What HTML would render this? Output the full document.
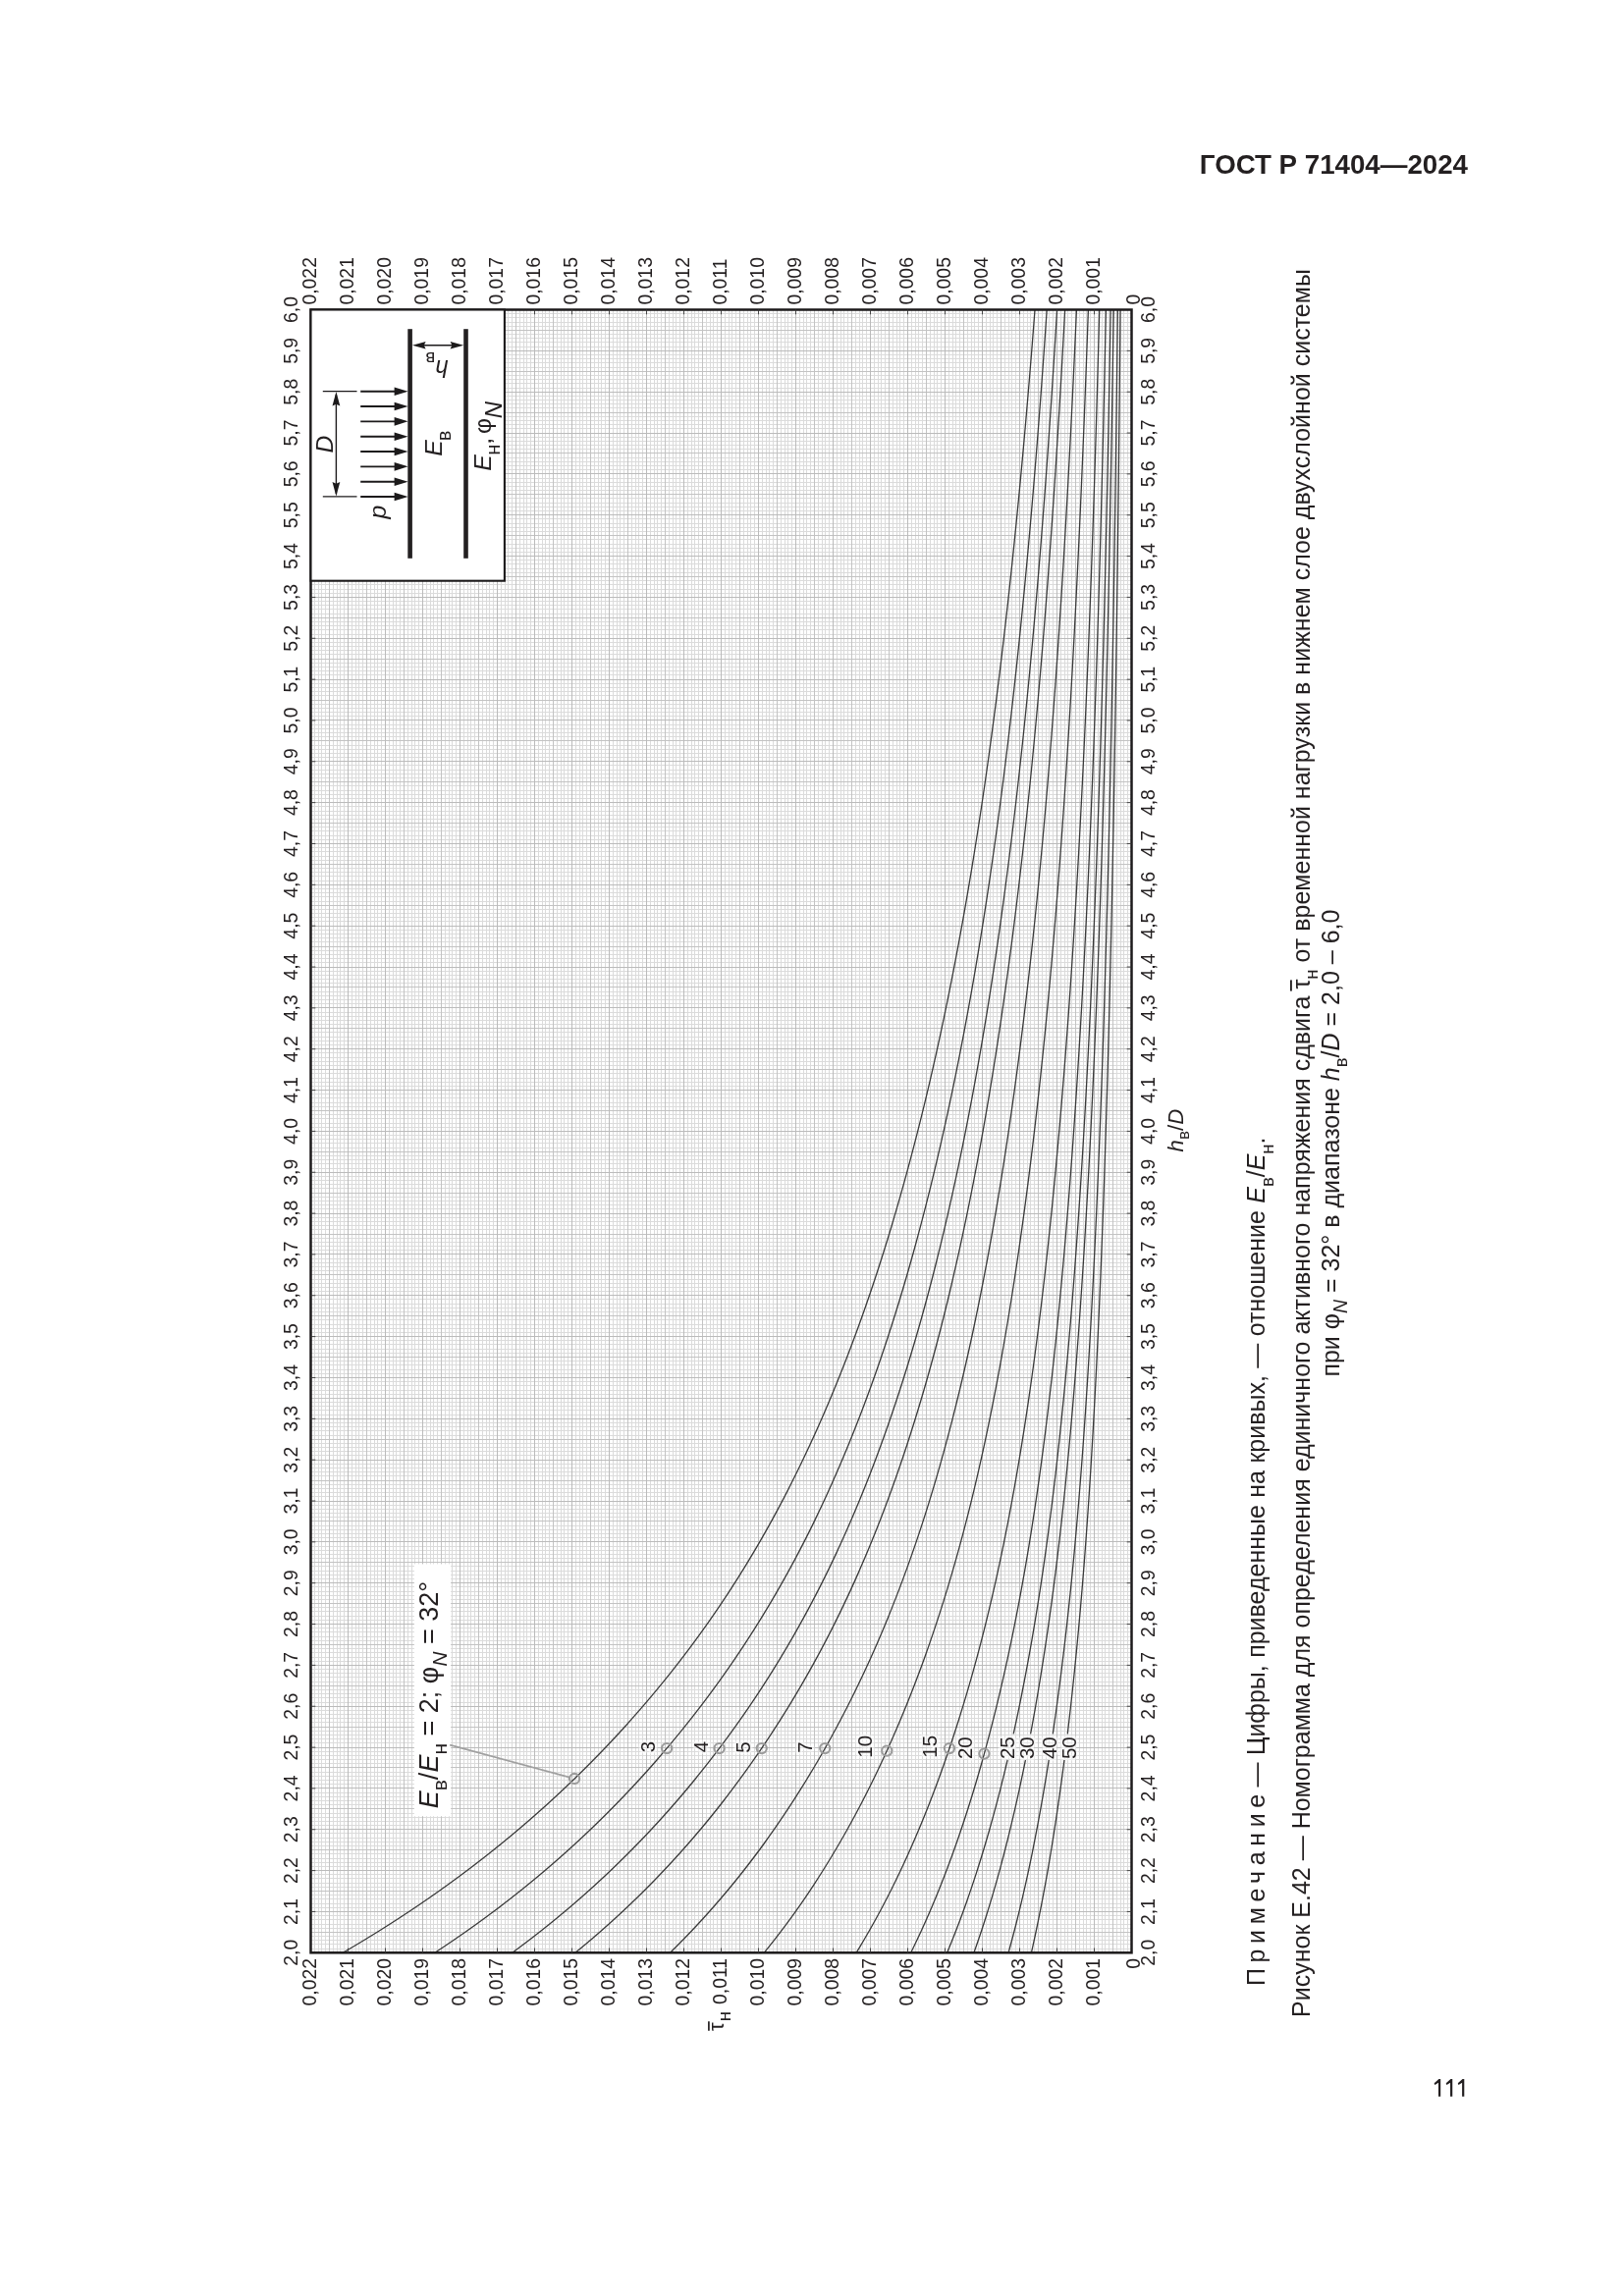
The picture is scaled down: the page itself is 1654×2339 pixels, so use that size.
<!DOCTYPE html><html><head><meta charset="utf-8"><title>p111</title><style>html,body{margin:0;padding:0;background:#fff}body{width:1654px;height:2339px;overflow:hidden}svg{display:block;will-change:transform}text{font-family:"Liberation Sans",sans-serif;fill:#231f20}.i{font-style:italic}</style></head><body>
<svg width="1654" height="2339" viewBox="0 0 1654 2339">
<rect width="1654" height="2339" fill="#fff"/>
<g fill="none">
<path d="M320.5 315.5V1989.3M324.5 315.5V1989.3M327.5 315.5V1989.3M331.5 315.5V1989.3M339.5 315.5V1989.3M343.5 315.5V1989.3M346.5 315.5V1989.3M350.5 315.5V1989.3M358.5 315.5V1989.3M362.5 315.5V1989.3M365.5 315.5V1989.3M369.5 315.5V1989.3M377.5 315.5V1989.3M381.5 315.5V1989.3M384.5 315.5V1989.3M388.5 315.5V1989.3M396.5 315.5V1989.3M400.5 315.5V1989.3M403.5 315.5V1989.3M407.5 315.5V1989.3M415.5 315.5V1989.3M419.5 315.5V1989.3M422.5 315.5V1989.3M426.5 315.5V1989.3M434.5 315.5V1989.3M438.5 315.5V1989.3M441.5 315.5V1989.3M445.5 315.5V1989.3M453.5 315.5V1989.3M457.5 315.5V1989.3M460.5 315.5V1989.3M464.5 315.5V1989.3M472.5 315.5V1989.3M476.5 315.5V1989.3M479.5 315.5V1989.3M483.5 315.5V1989.3M491.5 315.5V1989.3M495.5 315.5V1989.3M498.5 315.5V1989.3M502.5 315.5V1989.3M510.5 315.5V1989.3M514.5 315.5V1989.3M517.5 315.5V1989.3M521.5 315.5V1989.3M529.5 315.5V1989.3M533.5 315.5V1989.3M536.5 315.5V1989.3M540.5 315.5V1989.3M548.5 315.5V1989.3M552.5 315.5V1989.3M555.5 315.5V1989.3M559.5 315.5V1989.3M567.5 315.5V1989.3M571.5 315.5V1989.3M574.5 315.5V1989.3M578.5 315.5V1989.3M586.5 315.5V1989.3M590.5 315.5V1989.3M593.5 315.5V1989.3M597.5 315.5V1989.3M605.5 315.5V1989.3M609.5 315.5V1989.3M612.5 315.5V1989.3M616.5 315.5V1989.3M624.5 315.5V1989.3M628.5 315.5V1989.3M631.5 315.5V1989.3M635.5 315.5V1989.3M643.5 315.5V1989.3M647.5 315.5V1989.3M650.5 315.5V1989.3M654.5 315.5V1989.3M662.5 315.5V1989.3M666.5 315.5V1989.3M669.5 315.5V1989.3M673.5 315.5V1989.3M681.5 315.5V1989.3M685.5 315.5V1989.3M688.5 315.5V1989.3M692.5 315.5V1989.3M700.5 315.5V1989.3M704.5 315.5V1989.3M707.5 315.5V1989.3M711.5 315.5V1989.3M719.5 315.5V1989.3M723.5 315.5V1989.3M726.5 315.5V1989.3M730.5 315.5V1989.3M738.5 315.5V1989.3M742.5 315.5V1989.3M745.5 315.5V1989.3M749.5 315.5V1989.3M757.5 315.5V1989.3M761.5 315.5V1989.3M764.5 315.5V1989.3M768.5 315.5V1989.3M776.5 315.5V1989.3M780.5 315.5V1989.3M783.5 315.5V1989.3M787.5 315.5V1989.3M795.5 315.5V1989.3M799.5 315.5V1989.3M802.5 315.5V1989.3M806.5 315.5V1989.3M814.5 315.5V1989.3M818.5 315.5V1989.3M821.5 315.5V1989.3M825.5 315.5V1989.3M833.5 315.5V1989.3M837.5 315.5V1989.3M840.5 315.5V1989.3M844.5 315.5V1989.3M852.5 315.5V1989.3M856.5 315.5V1989.3M859.5 315.5V1989.3M863.5 315.5V1989.3M871.5 315.5V1989.3M875.5 315.5V1989.3M878.5 315.5V1989.3M882.5 315.5V1989.3M890.5 315.5V1989.3M894.5 315.5V1989.3M897.5 315.5V1989.3M901.5 315.5V1989.3M909.5 315.5V1989.3M913.5 315.5V1989.3M916.5 315.5V1989.3M920.5 315.5V1989.3M928.5 315.5V1989.3M932.5 315.5V1989.3M935.5 315.5V1989.3M939.5 315.5V1989.3M947.5 315.5V1989.3M951.5 315.5V1989.3M954.5 315.5V1989.3M958.5 315.5V1989.3M966.5 315.5V1989.3M970.5 315.5V1989.3M973.5 315.5V1989.3M977.5 315.5V1989.3M985.5 315.5V1989.3M989.5 315.5V1989.3M992.5 315.5V1989.3M996.5 315.5V1989.3M1004.5 315.5V1989.3M1008.5 315.5V1989.3M1011.5 315.5V1989.3M1015.5 315.5V1989.3M1023.5 315.5V1989.3M1027.5 315.5V1989.3M1030.5 315.5V1989.3M1034.5 315.5V1989.3M1042.5 315.5V1989.3M1046.5 315.5V1989.3M1049.5 315.5V1989.3M1053.5 315.5V1989.3M1061.5 315.5V1989.3M1065.5 315.5V1989.3M1068.5 315.5V1989.3M1072.5 315.5V1989.3M1080.5 315.5V1989.3M1084.5 315.5V1989.3M1087.5 315.5V1989.3M1091.5 315.5V1989.3M1099.5 315.5V1989.3M1103.5 315.5V1989.3M1106.5 315.5V1989.3M1110.5 315.5V1989.3M1118.5 315.5V1989.3M1122.5 315.5V1989.3M1125.5 315.5V1989.3M1129.5 315.5V1989.3M1137.5 315.5V1989.3M1141.5 315.5V1989.3M1144.5 315.5V1989.3M1148.5 315.5V1989.3M316.5 319.5H1152.5M316.5 323.5H1152.5M316.5 328.5H1152.5M316.5 332.5H1152.5M316.5 340.5H1152.5M316.5 344.5H1152.5M316.5 348.5H1152.5M316.5 353.5H1152.5M316.5 361.5H1152.5M316.5 365.5H1152.5M316.5 369.5H1152.5M316.5 374.5H1152.5M316.5 382.5H1152.5M316.5 386.5H1152.5M316.5 390.5H1152.5M316.5 395.5H1152.5M316.5 403.5H1152.5M316.5 407.5H1152.5M316.5 411.5H1152.5M316.5 415.5H1152.5M316.5 424.5H1152.5M316.5 428.5H1152.5M316.5 432.5H1152.5M316.5 436.5H1152.5M316.5 445.5H1152.5M316.5 449.5H1152.5M316.5 453.5H1152.5M316.5 457.5H1152.5M316.5 466.5H1152.5M316.5 470.5H1152.5M316.5 474.5H1152.5M316.5 478.5H1152.5M316.5 487.5H1152.5M316.5 491.5H1152.5M316.5 495.5H1152.5M316.5 499.5H1152.5M316.5 507.5H1152.5M316.5 512.5H1152.5M316.5 516.5H1152.5M316.5 520.5H1152.5M316.5 528.5H1152.5M316.5 533.5H1152.5M316.5 537.5H1152.5M316.5 541.5H1152.5M316.5 549.5H1152.5M316.5 554.5H1152.5M316.5 558.5H1152.5M316.5 562.5H1152.5M316.5 570.5H1152.5M316.5 574.5H1152.5M316.5 579.5H1152.5M316.5 583.5H1152.5M316.5 591.5H1152.5M316.5 595.5H1152.5M316.5 600.5H1152.5M316.5 604.5H1152.5M316.5 612.5H1152.5M316.5 616.5H1152.5M316.5 620.5H1152.5M316.5 625.5H1152.5M316.5 633.5H1152.5M316.5 637.5H1152.5M316.5 641.5H1152.5M316.5 646.5H1152.5M316.5 654.5H1152.5M316.5 658.5H1152.5M316.5 662.5H1152.5M316.5 666.5H1152.5M316.5 675.5H1152.5M316.5 679.5H1152.5M316.5 683.5H1152.5M316.5 687.5H1152.5M316.5 696.5H1152.5M316.5 700.5H1152.5M316.5 704.5H1152.5M316.5 708.5H1152.5M316.5 717.5H1152.5M316.5 721.5H1152.5M316.5 725.5H1152.5M316.5 729.5H1152.5M316.5 738.5H1152.5M316.5 742.5H1152.5M316.5 746.5H1152.5M316.5 750.5H1152.5M316.5 759.5H1152.5M316.5 763.5H1152.5M316.5 767.5H1152.5M316.5 771.5H1152.5M316.5 779.5H1152.5M316.5 784.5H1152.5M316.5 788.5H1152.5M316.5 792.5H1152.5M316.5 800.5H1152.5M316.5 805.5H1152.5M316.5 809.5H1152.5M316.5 813.5H1152.5M316.5 821.5H1152.5M316.5 826.5H1152.5M316.5 830.5H1152.5M316.5 834.5H1152.5M316.5 842.5H1152.5M316.5 846.5H1152.5M316.5 851.5H1152.5M316.5 855.5H1152.5M316.5 863.5H1152.5M316.5 867.5H1152.5M316.5 872.5H1152.5M316.5 876.5H1152.5M316.5 884.5H1152.5M316.5 888.5H1152.5M316.5 892.5H1152.5M316.5 897.5H1152.5M316.5 905.5H1152.5M316.5 909.5H1152.5M316.5 913.5H1152.5M316.5 918.5H1152.5M316.5 926.5H1152.5M316.5 930.5H1152.5M316.5 934.5H1152.5M316.5 938.5H1152.5M316.5 947.5H1152.5M316.5 951.5H1152.5M316.5 955.5H1152.5M316.5 959.5H1152.5M316.5 968.5H1152.5M316.5 972.5H1152.5M316.5 976.5H1152.5M316.5 980.5H1152.5M316.5 989.5H1152.5M316.5 993.5H1152.5M316.5 997.5H1152.5M316.5 1001.5H1152.5M316.5 1010.5H1152.5M316.5 1014.5H1152.5M316.5 1018.5H1152.5M316.5 1022.5H1152.5M316.5 1031.5H1152.5M316.5 1035.5H1152.5M316.5 1039.5H1152.5M316.5 1043.5H1152.5M316.5 1051.5H1152.5M316.5 1056.5H1152.5M316.5 1060.5H1152.5M316.5 1064.5H1152.5M316.5 1072.5H1152.5M316.5 1077.5H1152.5M316.5 1081.5H1152.5M316.5 1085.5H1152.5M316.5 1093.5H1152.5M316.5 1098.5H1152.5M316.5 1102.5H1152.5M316.5 1106.5H1152.5M316.5 1114.5H1152.5M316.5 1118.5H1152.5M316.5 1123.5H1152.5M316.5 1127.5H1152.5M316.5 1135.5H1152.5M316.5 1139.5H1152.5M316.5 1144.5H1152.5M316.5 1148.5H1152.5M316.5 1156.5H1152.5M316.5 1160.5H1152.5M316.5 1164.5H1152.5M316.5 1169.5H1152.5M316.5 1177.5H1152.5M316.5 1181.5H1152.5M316.5 1185.5H1152.5M316.5 1190.5H1152.5M316.5 1198.5H1152.5M316.5 1202.5H1152.5M316.5 1206.5H1152.5M316.5 1210.5H1152.5M316.5 1219.5H1152.5M316.5 1223.5H1152.5M316.5 1227.5H1152.5M316.5 1231.5H1152.5M316.5 1240.5H1152.5M316.5 1244.5H1152.5M316.5 1248.5H1152.5M316.5 1252.5H1152.5M316.5 1261.5H1152.5M316.5 1265.5H1152.5M316.5 1269.5H1152.5M316.5 1273.5H1152.5M316.5 1282.5H1152.5M316.5 1286.5H1152.5M316.5 1290.5H1152.5M316.5 1294.5H1152.5M316.5 1303.5H1152.5M316.5 1307.5H1152.5M316.5 1311.5H1152.5M316.5 1315.5H1152.5M316.5 1323.5H1152.5M316.5 1328.5H1152.5M316.5 1332.5H1152.5M316.5 1336.5H1152.5M316.5 1344.5H1152.5M316.5 1349.5H1152.5M316.5 1353.5H1152.5M316.5 1357.5H1152.5M316.5 1365.5H1152.5M316.5 1369.5H1152.5M316.5 1374.5H1152.5M316.5 1378.5H1152.5M316.5 1386.5H1152.5M316.5 1390.5H1152.5M316.5 1395.5H1152.5M316.5 1399.5H1152.5M316.5 1407.5H1152.5M316.5 1411.5H1152.5M316.5 1416.5H1152.5M316.5 1420.5H1152.5M316.5 1428.5H1152.5M316.5 1432.5H1152.5M316.5 1436.5H1152.5M316.5 1441.5H1152.5M316.5 1449.5H1152.5M316.5 1453.5H1152.5M316.5 1457.5H1152.5M316.5 1462.5H1152.5M316.5 1470.5H1152.5M316.5 1474.5H1152.5M316.5 1478.5H1152.5M316.5 1482.5H1152.5M316.5 1491.5H1152.5M316.5 1495.5H1152.5M316.5 1499.5H1152.5M316.5 1503.5H1152.5M316.5 1512.5H1152.5M316.5 1516.5H1152.5M316.5 1520.5H1152.5M316.5 1524.5H1152.5M316.5 1533.5H1152.5M316.5 1537.5H1152.5M316.5 1541.5H1152.5M316.5 1545.5H1152.5M316.5 1554.5H1152.5M316.5 1558.5H1152.5M316.5 1562.5H1152.5M316.5 1566.5H1152.5M316.5 1575.5H1152.5M316.5 1579.5H1152.5M316.5 1583.5H1152.5M316.5 1587.5H1152.5M316.5 1595.5H1152.5M316.5 1600.5H1152.5M316.5 1604.5H1152.5M316.5 1608.5H1152.5M316.5 1616.5H1152.5M316.5 1621.5H1152.5M316.5 1625.5H1152.5M316.5 1629.5H1152.5M316.5 1637.5H1152.5M316.5 1641.5H1152.5M316.5 1646.5H1152.5M316.5 1650.5H1152.5M316.5 1658.5H1152.5M316.5 1662.5H1152.5M316.5 1667.5H1152.5M316.5 1671.5H1152.5M316.5 1679.5H1152.5M316.5 1683.5H1152.5M316.5 1688.5H1152.5M316.5 1692.5H1152.5M316.5 1700.5H1152.5M316.5 1704.5H1152.5M316.5 1708.5H1152.5M316.5 1713.5H1152.5M316.5 1721.5H1152.5M316.5 1725.5H1152.5M316.5 1729.5H1152.5M316.5 1734.5H1152.5M316.5 1742.5H1152.5M316.5 1746.5H1152.5M316.5 1750.5H1152.5M316.5 1754.5H1152.5M316.5 1763.5H1152.5M316.5 1767.5H1152.5M316.5 1771.5H1152.5M316.5 1775.5H1152.5M316.5 1784.5H1152.5M316.5 1788.5H1152.5M316.5 1792.5H1152.5M316.5 1796.5H1152.5M316.5 1805.5H1152.5M316.5 1809.5H1152.5M316.5 1813.5H1152.5M316.5 1817.5H1152.5M316.5 1826.5H1152.5M316.5 1830.5H1152.5M316.5 1834.5H1152.5M316.5 1838.5H1152.5M316.5 1847.5H1152.5M316.5 1851.5H1152.5M316.5 1855.5H1152.5M316.5 1859.5H1152.5M316.5 1867.5H1152.5M316.5 1872.5H1152.5M316.5 1876.5H1152.5M316.5 1880.5H1152.5M316.5 1888.5H1152.5M316.5 1893.5H1152.5M316.5 1897.5H1152.5M316.5 1901.5H1152.5M316.5 1909.5H1152.5M316.5 1913.5H1152.5M316.5 1918.5H1152.5M316.5 1922.5H1152.5M316.5 1930.5H1152.5M316.5 1934.5H1152.5M316.5 1939.5H1152.5M316.5 1943.5H1152.5M316.5 1951.5H1152.5M316.5 1955.5H1152.5M316.5 1960.5H1152.5M316.5 1964.5H1152.5M316.5 1972.5H1152.5M316.5 1976.5H1152.5M316.5 1980.5H1152.5M316.5 1985.5H1152.5" stroke="#dbdbdb" stroke-width="1"/>
<path d="M335.5 315.5V1989.3M373.5 315.5V1989.3M411.5 315.5V1989.3M449.5 315.5V1989.3M487.5 315.5V1989.3M525.5 315.5V1989.3M563.5 315.5V1989.3M601.5 315.5V1989.3M639.5 315.5V1989.3M677.5 315.5V1989.3M715.5 315.5V1989.3M753.5 315.5V1989.3M791.5 315.5V1989.3M829.5 315.5V1989.3M867.5 315.5V1989.3M905.5 315.5V1989.3M943.5 315.5V1989.3M981.5 315.5V1989.3M1019.5 315.5V1989.3M1057.5 315.5V1989.3M1095.5 315.5V1989.3M1133.5 315.5V1989.3M316.5 336.5H1152.5M316.5 378.5H1152.5M316.5 420.5H1152.5M316.5 461.5H1152.5M316.5 503.5H1152.5M316.5 545.5H1152.5M316.5 587.5H1152.5M316.5 629.5H1152.5M316.5 671.5H1152.5M316.5 713.5H1152.5M316.5 754.5H1152.5M316.5 796.5H1152.5M316.5 838.5H1152.5M316.5 880.5H1152.5M316.5 922.5H1152.5M316.5 964.5H1152.5M316.5 1005.5H1152.5M316.5 1047.5H1152.5M316.5 1089.5H1152.5M316.5 1131.5H1152.5M316.5 1173.5H1152.5M316.5 1215.5H1152.5M316.5 1257.5H1152.5M316.5 1298.5H1152.5M316.5 1340.5H1152.5M316.5 1382.5H1152.5M316.5 1424.5H1152.5M316.5 1466.5H1152.5M316.5 1508.5H1152.5M316.5 1549.5H1152.5M316.5 1591.5H1152.5M316.5 1633.5H1152.5M316.5 1675.5H1152.5M316.5 1717.5H1152.5M316.5 1759.5H1152.5M316.5 1800.5H1152.5M316.5 1842.5H1152.5M316.5 1884.5H1152.5M316.5 1926.5H1152.5M316.5 1968.5H1152.5" stroke="#c3c3c3" stroke-width="1"/>
<path d="M316.5 315.5V1989.3M354.5 315.5V1989.3M392.5 315.5V1989.3M430.5 315.5V1989.3M468.5 315.5V1989.3M506.5 315.5V1989.3M544.5 315.5V1989.3M582.5 315.5V1989.3M620.5 315.5V1989.3M658.5 315.5V1989.3M696.5 315.5V1989.3M734.5 315.5V1989.3M772.5 315.5V1989.3M810.5 315.5V1989.3M848.5 315.5V1989.3M886.5 315.5V1989.3M924.5 315.5V1989.3M962.5 315.5V1989.3M1000.5 315.5V1989.3M1038.5 315.5V1989.3M1076.5 315.5V1989.3M1114.5 315.5V1989.3M1152.5 315.5V1989.3M316.5 315.5H1152.5M316.5 357.5H1152.5M316.5 399.5H1152.5M316.5 441.5H1152.5M316.5 482.5H1152.5M316.5 524.5H1152.5M316.5 566.5H1152.5M316.5 608.5H1152.5M316.5 650.5H1152.5M316.5 692.5H1152.5M316.5 733.5H1152.5M316.5 775.5H1152.5M316.5 817.5H1152.5M316.5 859.5H1152.5M316.5 901.5H1152.5M316.5 943.5H1152.5M316.5 985.5H1152.5M316.5 1026.5H1152.5M316.5 1068.5H1152.5M316.5 1110.5H1152.5M316.5 1152.5H1152.5M316.5 1194.5H1152.5M316.5 1236.5H1152.5M316.5 1277.5H1152.5M316.5 1319.5H1152.5M316.5 1361.5H1152.5M316.5 1403.5H1152.5M316.5 1445.5H1152.5M316.5 1487.5H1152.5M316.5 1529.5H1152.5M316.5 1570.5H1152.5M316.5 1612.5H1152.5M316.5 1654.5H1152.5M316.5 1696.5H1152.5M316.5 1738.5H1152.5M316.5 1780.5H1152.5M316.5 1821.5H1152.5M316.5 1863.5H1152.5M316.5 1905.5H1152.5M316.5 1947.5H1152.5M316.5 1989.5H1152.5" stroke="#bbbbbb" stroke-width="1"/>
</g>
<g fill="none" stroke="#3a3a3a" stroke-width="1.3">
<path d="M349.33 1989.30L361.23 1982.30L372.86 1975.29L384.22 1968.29L395.33 1961.29L406.20 1954.28L416.84 1947.28L427.24 1940.28L437.43 1933.27L447.40 1926.27L457.17 1919.27L466.73 1912.26L476.11 1905.26L485.29 1898.26L494.30 1891.25L503.13 1884.25L511.79 1877.25L520.28 1870.24L528.62 1863.24L536.79 1856.24L544.82 1849.23L552.70 1842.23L560.44 1835.23L568.03 1828.22L575.50 1821.22L582.83 1814.22L590.03 1807.21L597.11 1800.21L604.07 1793.21L610.91 1786.20L617.63 1779.20L624.24 1772.20L630.75 1765.19L637.14 1758.19L643.42 1751.19L649.61 1744.18L655.68 1737.18L661.66 1730.18L667.54 1723.17L673.31 1716.17L678.99 1709.17L684.58 1702.16L690.07 1695.16L695.47 1688.16L700.78 1681.15L706.01 1674.15L711.14 1667.15L716.19 1660.14L721.16 1653.14L726.04 1646.14L730.84 1639.13L735.56 1632.13L740.21 1625.13L744.77 1618.12L749.26 1611.12L753.68 1604.12L758.03 1597.11L762.30 1590.11L766.50 1583.11L770.64 1576.10L774.70 1569.10L778.70 1562.10L782.64 1555.09L786.51 1548.09L790.32 1541.09L794.07 1534.08L797.76 1527.08L801.39 1520.08L804.97 1513.07L808.49 1506.07L811.96 1499.07L815.37 1492.06L818.73 1485.06L822.04 1478.06L825.31 1471.05L828.52 1464.05L831.69 1457.05L834.80 1450.04L837.88 1443.04L840.91 1436.04L843.89 1429.03L846.84 1422.03L849.74 1415.03L852.60 1408.02L855.41 1401.02L858.19 1394.02L860.94 1387.01L863.64 1380.01L866.30 1373.01L868.93 1366.00L871.53 1359.00L874.09 1352.00L876.61 1344.99L879.10 1337.99L881.56 1330.99L883.98 1323.98L886.37 1316.98L888.74 1309.98L891.07 1302.97L893.37 1295.97L895.64 1288.97L897.88 1281.96L900.09 1274.96L902.28 1267.96L904.44 1260.95L906.57 1253.95L908.67 1246.95L910.75 1239.94L912.80 1232.94L914.83 1225.94L916.83 1218.93L918.81 1211.93L920.76 1204.93L922.69 1197.92L924.60 1190.92L926.48 1183.92L928.34 1176.91L930.18 1169.91L932.00 1162.91L933.80 1155.90L935.57 1148.90L937.33 1141.89L939.06 1134.89L940.78 1127.89L942.47 1120.88L944.15 1113.88L945.80 1106.88L947.44 1099.87L949.06 1092.87L950.66 1085.87L952.24 1078.86L953.80 1071.86L955.35 1064.86L956.88 1057.85L958.39 1050.85L959.88 1043.85L961.36 1036.84L962.82 1029.84L964.26 1022.84L965.69 1015.83L967.10 1008.83L968.50 1001.83L969.88 994.82L971.25 987.82L972.60 980.82L973.93 973.81L975.25 966.81L976.56 959.81L977.85 952.80L979.13 945.80L980.39 938.80L981.64 931.79L982.88 924.79L984.10 917.79L985.31 910.78L986.51 903.78L987.69 896.78L988.87 889.77L990.02 882.77L991.17 875.77L992.31 868.76L993.43 861.76L994.54 854.76L995.64 847.75L996.72 840.75L997.80 833.75L998.86 826.74L999.92 819.74L1000.96 812.74L1001.99 805.73L1003.01 798.73L1004.02 791.73L1005.02 784.72L1006.01 777.72L1006.99 770.72L1007.96 763.71L1008.91 756.71L1009.86 749.71L1010.80 742.70L1011.73 735.70L1012.65 728.70L1013.56 721.69L1014.47 714.69L1015.36 707.69L1016.24 700.68L1017.12 693.68L1017.98 686.68L1018.84 679.67L1019.69 672.67L1020.53 665.67L1021.36 658.66L1022.19 651.66L1023.00 644.66L1023.81 637.65L1024.61 630.65L1025.41 623.65L1026.19 616.64L1026.97 609.64L1027.74 602.64L1028.50 595.63L1029.26 588.63L1030.01 581.63L1030.75 574.62L1031.49 567.62L1032.22 560.62L1032.94 553.61L1033.65 546.61L1034.36 539.61L1035.06 532.60L1035.76 525.60L1036.45 518.60L1037.13 511.59L1037.81 504.59L1038.48 497.59L1039.14 490.58L1039.80 483.58L1040.46 476.58L1041.10 469.57L1041.75 462.57L1042.38 455.57L1043.01 448.56L1043.64 441.56L1044.26 434.56L1044.87 427.55L1045.48 420.55L1046.08 413.55L1046.68 406.54L1047.27 399.54L1047.86 392.54L1048.45 385.53L1049.02 378.53L1049.60 371.53L1050.17 364.52L1050.73 357.52L1051.29 350.52L1051.84 343.51L1052.39 336.51L1052.94 329.51L1053.48 322.50L1054.02 315.50"/>
<path d="M442.92 1989.30L453.47 1982.30L463.79 1975.29L473.87 1968.29L483.72 1961.29L493.36 1954.28L502.80 1947.28L512.02 1940.28L521.06 1933.27L529.90 1926.27L538.56 1919.27L547.04 1912.26L555.35 1905.26L563.49 1898.26L571.48 1891.25L579.30 1884.25L586.98 1877.25L594.51 1870.24L601.89 1863.24L609.14 1856.24L616.25 1849.23L623.23 1842.23L630.09 1835.23L636.82 1828.22L643.43 1821.22L649.92 1814.22L656.30 1807.21L662.58 1800.21L668.74 1793.21L674.79 1786.20L680.75 1779.20L686.61 1772.20L692.36 1765.19L698.02 1758.19L703.59 1751.19L709.06 1744.18L714.44 1737.18L719.73 1730.18L724.93 1723.17L730.05 1716.17L735.08 1709.17L740.02 1702.16L744.88 1695.16L749.66 1688.16L754.36 1681.15L758.98 1674.15L763.52 1667.15L767.99 1660.14L772.38 1653.14L776.70 1646.14L780.95 1639.13L785.13 1632.13L789.24 1625.13L793.27 1618.12L797.25 1611.12L801.15 1604.12L805.00 1597.11L808.78 1590.11L812.49 1583.11L816.15 1576.10L819.74 1569.10L823.28 1562.10L826.76 1555.09L830.18 1548.09L833.55 1541.09L836.87 1534.08L840.13 1527.08L843.34 1520.08L846.50 1513.07L849.61 1506.07L852.68 1499.07L855.70 1492.06L858.67 1485.06L861.59 1478.06L864.48 1471.05L867.32 1464.05L870.11 1457.05L872.87 1450.04L875.59 1443.04L878.26 1436.04L880.90 1429.03L883.50 1422.03L886.06 1415.03L888.59 1408.02L891.08 1401.02L893.54 1394.02L895.96 1387.01L898.35 1380.01L900.70 1373.01L903.02 1366.00L905.31 1359.00L907.57 1352.00L909.80 1344.99L912.00 1337.99L914.17 1330.99L916.31 1323.98L918.43 1316.98L920.51 1309.98L922.57 1302.97L924.60 1295.97L926.60 1288.97L928.58 1281.96L930.54 1274.96L932.47 1267.96L934.37 1260.95L936.25 1253.95L938.11 1246.95L939.94 1239.94L941.75 1232.94L943.54 1225.94L945.31 1218.93L947.05 1211.93L948.78 1204.93L950.48 1197.92L952.16 1190.92L953.83 1183.92L955.47 1176.91L957.09 1169.91L958.70 1162.91L960.28 1155.90L961.85 1148.90L963.40 1141.89L964.93 1134.89L966.44 1127.89L967.94 1120.88L969.41 1113.88L970.87 1106.88L972.32 1099.87L973.75 1092.87L975.16 1085.87L976.55 1078.86L977.93 1071.86L979.29 1064.86L980.64 1057.85L981.97 1050.85L983.29 1043.85L984.59 1036.84L985.88 1029.84L987.15 1022.84L988.41 1015.83L989.66 1008.83L990.89 1001.83L992.11 994.82L993.31 987.82L994.50 980.82L995.68 973.81L996.84 966.81L998.00 959.81L999.13 952.80L1000.26 945.80L1001.38 938.80L1002.48 931.79L1003.57 924.79L1004.65 917.79L1005.71 910.78L1006.77 903.78L1007.81 896.78L1008.84 889.77L1009.86 882.77L1010.87 875.77L1011.87 868.76L1012.86 861.76L1013.84 854.76L1014.81 847.75L1015.77 840.75L1016.71 833.75L1017.65 826.74L1018.58 819.74L1019.50 812.74L1020.41 805.73L1021.31 798.73L1022.20 791.73L1023.08 784.72L1023.95 777.72L1024.81 770.72L1025.66 763.71L1026.51 756.71L1027.34 749.71L1028.17 742.70L1028.99 735.70L1029.80 728.70L1030.60 721.69L1031.40 714.69L1032.18 707.69L1032.96 700.68L1033.73 693.68L1034.49 686.68L1035.25 679.67L1036.00 672.67L1036.74 665.67L1037.47 658.66L1038.20 651.66L1038.92 644.66L1039.63 637.65L1040.33 630.65L1041.03 623.65L1041.72 616.64L1042.41 609.64L1043.09 602.64L1043.76 595.63L1044.42 588.63L1045.08 581.63L1045.74 574.62L1046.38 567.62L1047.03 560.62L1047.66 553.61L1048.29 546.61L1048.91 539.61L1049.53 532.60L1050.14 525.60L1050.75 518.60L1051.35 511.59L1051.95 504.59L1052.54 497.59L1053.12 490.58L1053.70 483.58L1054.28 476.58L1054.85 469.57L1055.41 462.57L1055.97 455.57L1056.53 448.56L1057.08 441.56L1057.62 434.56L1058.16 427.55L1058.70 420.55L1059.23 413.55L1059.76 406.54L1060.28 399.54L1060.80 392.54L1061.31 385.53L1061.82 378.53L1062.32 371.53L1062.82 364.52L1063.32 357.52L1063.81 350.52L1064.30 343.51L1064.78 336.51L1065.26 329.51L1065.74 322.50L1066.21 315.50"/>
<path d="M521.81 1989.30L531.24 1982.30L540.46 1975.29L549.46 1968.29L558.26 1961.29L566.87 1954.28L575.29 1947.28L583.53 1940.28L591.59 1933.27L599.49 1926.27L607.22 1919.27L614.79 1912.26L622.21 1905.26L629.47 1898.26L636.60 1891.25L643.58 1884.25L650.43 1877.25L657.15 1870.24L663.73 1863.24L670.20 1856.24L676.54 1849.23L682.77 1842.23L688.88 1835.23L694.89 1828.22L700.78 1821.22L706.57 1814.22L712.26 1807.21L717.85 1800.21L723.34 1793.21L728.74 1786.20L734.05 1779.20L739.27 1772.20L744.40 1765.19L749.45 1758.19L754.41 1751.19L759.28 1744.18L764.08 1737.18L768.79 1730.18L773.42 1723.17L777.98 1716.17L782.46 1709.17L786.86 1702.16L791.19 1695.16L795.45 1688.16L799.63 1681.15L803.74 1674.15L807.79 1667.15L811.77 1660.14L815.68 1653.14L819.52 1646.14L823.31 1639.13L827.02 1632.13L830.68 1625.13L834.28 1618.12L837.81 1611.12L841.29 1604.12L844.71 1597.11L848.07 1590.11L851.38 1583.11L854.63 1576.10L857.83 1569.10L860.98 1562.10L864.07 1555.09L867.12 1548.09L870.11 1541.09L873.06 1534.08L875.96 1527.08L878.82 1520.08L881.63 1513.07L884.40 1506.07L887.13 1499.07L889.81 1492.06L892.45 1485.06L895.05 1478.06L897.62 1471.05L900.14 1464.05L902.63 1457.05L905.08 1450.04L907.49 1443.04L909.87 1436.04L912.22 1429.03L914.53 1422.03L916.81 1415.03L919.05 1408.02L921.26 1401.02L923.45 1394.02L925.60 1387.01L927.72 1380.01L929.81 1373.01L931.88 1366.00L933.91 1359.00L935.92 1352.00L937.90 1344.99L939.85 1337.99L941.78 1330.99L943.68 1323.98L945.56 1316.98L947.41 1309.98L949.24 1302.97L951.04 1295.97L952.82 1288.97L954.58 1281.96L956.31 1274.96L958.03 1267.96L959.72 1260.95L961.39 1253.95L963.04 1246.95L964.67 1239.94L966.27 1232.94L967.86 1225.94L969.43 1218.93L970.98 1211.93L972.51 1204.93L974.02 1197.92L975.51 1190.92L976.99 1183.92L978.45 1176.91L979.89 1169.91L981.31 1162.91L982.72 1155.90L984.11 1148.90L985.48 1141.89L986.84 1134.89L988.18 1127.89L989.51 1120.88L990.82 1113.88L992.12 1106.88L993.40 1099.87L994.66 1092.87L995.92 1085.87L997.15 1078.86L998.38 1071.86L999.58 1064.86L1000.78 1057.85L1001.96 1050.85L1003.13 1043.85L1004.29 1036.84L1005.43 1029.84L1006.56 1022.84L1007.67 1015.83L1008.78 1008.83L1009.87 1001.83L1010.95 994.82L1012.02 987.82L1013.07 980.82L1014.11 973.81L1015.15 966.81L1016.17 959.81L1017.18 952.80L1018.18 945.80L1019.16 938.80L1020.14 931.79L1021.11 924.79L1022.06 917.79L1023.01 910.78L1023.94 903.78L1024.87 896.78L1025.78 889.77L1026.69 882.77L1027.58 875.77L1028.47 868.76L1029.34 861.76L1030.21 854.76L1031.07 847.75L1031.92 840.75L1032.76 833.75L1033.59 826.74L1034.41 819.74L1035.22 812.74L1036.03 805.73L1036.82 798.73L1037.61 791.73L1038.39 784.72L1039.16 777.72L1039.93 770.72L1040.68 763.71L1041.43 756.71L1042.17 749.71L1042.90 742.70L1043.63 735.70L1044.35 728.70L1045.06 721.69L1045.76 714.69L1046.45 707.69L1047.14 700.68L1047.83 693.68L1048.50 686.68L1049.17 679.67L1049.83 672.67L1050.49 665.67L1051.14 658.66L1051.78 651.66L1052.42 644.66L1053.05 637.65L1053.67 630.65L1054.29 623.65L1054.90 616.64L1055.51 609.64L1056.11 602.64L1056.70 595.63L1057.29 588.63L1057.88 581.63L1058.45 574.62L1059.03 567.62L1059.59 560.62L1060.16 553.61L1060.71 546.61L1061.26 539.61L1061.81 532.60L1062.35 525.60L1062.89 518.60L1063.42 511.59L1063.95 504.59L1064.47 497.59L1064.99 490.58L1065.50 483.58L1066.01 476.58L1066.51 469.57L1067.01 462.57L1067.51 455.57L1068.00 448.56L1068.49 441.56L1068.97 434.56L1069.45 427.55L1069.92 420.55L1070.39 413.55L1070.86 406.54L1071.32 399.54L1071.78 392.54L1072.23 385.53L1072.68 378.53L1073.13 371.53L1073.57 364.52L1074.01 357.52L1074.44 350.52L1074.87 343.51L1075.30 336.51L1075.72 329.51L1076.15 322.50L1076.56 315.50"/>
<path d="M585.99 1989.30L594.48 1982.30L602.78 1975.29L610.88 1968.29L618.81 1961.29L626.56 1954.28L634.14 1947.28L641.56 1940.28L648.82 1933.27L655.92 1926.27L662.88 1919.27L669.70 1912.26L676.37 1905.26L682.91 1898.26L689.33 1891.25L695.61 1884.25L701.77 1877.25L707.82 1870.24L713.75 1863.24L719.57 1856.24L725.27 1849.23L730.88 1842.23L736.38 1835.23L741.78 1828.22L747.08 1821.22L752.29 1814.22L757.41 1807.21L762.44 1800.21L767.38 1793.21L772.24 1786.20L777.01 1779.20L781.71 1772.20L786.32 1765.19L790.86 1758.19L795.32 1751.19L799.70 1744.18L804.02 1737.18L808.25 1730.18L812.42 1723.17L816.52 1716.17L820.54 1709.17L824.50 1702.16L828.40 1695.16L832.22 1688.16L835.99 1681.15L839.68 1674.15L843.32 1667.15L846.90 1660.14L850.41 1653.14L853.87 1646.14L857.27 1639.13L860.61 1632.13L863.90 1625.13L867.13 1618.12L870.31 1611.12L873.43 1604.12L876.51 1597.11L879.53 1590.11L882.50 1583.11L885.43 1576.10L888.30 1569.10L891.13 1562.10L893.91 1555.09L896.65 1548.09L899.34 1541.09L901.99 1534.08L904.60 1527.08L907.16 1520.08L909.69 1513.07L912.18 1506.07L914.63 1499.07L917.04 1492.06L919.41 1485.06L921.75 1478.06L924.05 1471.05L926.32 1464.05L928.55 1457.05L930.75 1450.04L932.92 1443.04L935.06 1436.04L937.17 1429.03L939.24 1422.03L941.29 1415.03L943.31 1408.02L945.29 1401.02L947.25 1394.02L949.19 1387.01L951.09 1380.01L952.97 1373.01L954.82 1366.00L956.65 1359.00L958.45 1352.00L960.23 1344.99L961.99 1337.99L963.72 1330.99L965.43 1323.98L967.11 1316.98L968.77 1309.98L970.41 1302.97L972.03 1295.97L973.63 1288.97L975.21 1281.96L976.77 1274.96L978.31 1267.96L979.83 1260.95L981.32 1253.95L982.80 1246.95L984.27 1239.94L985.71 1232.94L987.14 1225.94L988.54 1218.93L989.93 1211.93L991.31 1204.93L992.66 1197.92L994.00 1190.92L995.33 1183.92L996.64 1176.91L997.93 1169.91L999.21 1162.91L1000.47 1155.90L1001.72 1148.90L1002.95 1141.89L1004.17 1134.89L1005.37 1127.89L1006.57 1120.88L1007.74 1113.88L1008.90 1106.88L1010.05 1099.87L1011.19 1092.87L1012.31 1085.87L1013.42 1078.86L1014.52 1071.86L1015.61 1064.86L1016.68 1057.85L1017.74 1050.85L1018.79 1043.85L1019.82 1036.84L1020.85 1029.84L1021.86 1022.84L1022.86 1015.83L1023.85 1008.83L1024.83 1001.83L1025.80 994.82L1026.76 987.82L1027.71 980.82L1028.64 973.81L1029.57 966.81L1030.48 959.81L1031.39 952.80L1032.28 945.80L1033.17 938.80L1034.05 931.79L1034.91 924.79L1035.77 917.79L1036.62 910.78L1037.46 903.78L1038.29 896.78L1039.11 889.77L1039.92 882.77L1040.72 875.77L1041.52 868.76L1042.30 861.76L1043.08 854.76L1043.85 847.75L1044.61 840.75L1045.36 833.75L1046.11 826.74L1046.84 819.74L1047.57 812.74L1048.29 805.73L1049.01 798.73L1049.71 791.73L1050.41 784.72L1051.11 777.72L1051.79 770.72L1052.47 763.71L1053.14 756.71L1053.80 749.71L1054.46 742.70L1055.11 735.70L1055.75 728.70L1056.39 721.69L1057.02 714.69L1057.64 707.69L1058.26 700.68L1058.87 693.68L1059.48 686.68L1060.08 679.67L1060.67 672.67L1061.26 665.67L1061.84 658.66L1062.42 651.66L1062.99 644.66L1063.55 637.65L1064.11 630.65L1064.67 623.65L1065.22 616.64L1065.76 609.64L1066.30 602.64L1066.83 595.63L1067.36 588.63L1067.88 581.63L1068.40 574.62L1068.91 567.62L1069.42 560.62L1069.93 553.61L1070.43 546.61L1070.92 539.61L1071.41 532.60L1071.90 525.60L1072.38 518.60L1072.85 511.59L1073.33 504.59L1073.79 497.59L1074.26 490.58L1074.72 483.58L1075.17 476.58L1075.63 469.57L1076.07 462.57L1076.52 455.57L1076.96 448.56L1077.39 441.56L1077.82 434.56L1078.25 427.55L1078.68 420.55L1079.10 413.55L1079.51 406.54L1079.93 399.54L1080.34 392.54L1080.75 385.53L1081.15 378.53L1081.55 371.53L1081.94 364.52L1082.34 357.52L1082.73 350.52L1083.11 343.51L1083.50 336.51L1083.88 329.51L1084.25 322.50L1084.63 315.50"/>
<path d="M682.57 1989.30L689.63 1982.30L696.52 1975.29L703.26 1968.29L709.85 1961.29L716.29 1954.28L722.59 1947.28L728.76 1940.28L734.79 1933.27L740.70 1926.27L746.48 1919.27L752.14 1912.26L757.69 1905.26L763.13 1898.26L768.45 1891.25L773.68 1884.25L778.80 1877.25L783.82 1870.24L788.75 1863.24L793.58 1856.24L798.32 1849.23L802.98 1842.23L807.55 1835.23L812.03 1828.22L816.44 1821.22L820.77 1814.22L825.02 1807.21L829.19 1800.21L833.30 1793.21L837.33 1786.20L841.30 1779.20L845.20 1772.20L849.03 1765.19L852.80 1758.19L856.50 1751.19L860.14 1744.18L863.72 1737.18L867.24 1730.18L870.70 1723.17L874.10 1716.17L877.45 1709.17L880.73 1702.16L883.97 1695.16L887.14 1688.16L890.27 1681.15L893.34 1674.15L896.36 1667.15L899.33 1660.14L902.24 1653.14L905.11 1646.14L907.94 1639.13L910.71 1632.13L913.44 1625.13L916.12 1618.12L918.76 1611.12L921.35 1604.12L923.90 1597.11L926.41 1590.11L928.88 1583.11L931.30 1576.10L933.69 1569.10L936.04 1562.10L938.34 1555.09L940.62 1548.09L942.85 1541.09L945.05 1534.08L947.21 1527.08L949.34 1520.08L951.44 1513.07L953.50 1506.07L955.53 1499.07L957.53 1492.06L959.50 1485.06L961.44 1478.06L963.35 1471.05L965.24 1464.05L967.09 1457.05L968.92 1450.04L970.71 1443.04L972.49 1436.04L974.23 1429.03L975.96 1422.03L977.65 1415.03L979.33 1408.02L980.98 1401.02L982.60 1394.02L984.20 1387.01L985.78 1380.01L987.34 1373.01L988.88 1366.00L990.40 1359.00L991.89 1352.00L993.37 1344.99L994.82 1337.99L996.26 1330.99L997.67 1323.98L999.07 1316.98L1000.45 1309.98L1001.81 1302.97L1003.15 1295.97L1004.48 1288.97L1005.79 1281.96L1007.08 1274.96L1008.35 1267.96L1009.61 1260.95L1010.86 1253.95L1012.08 1246.95L1013.30 1239.94L1014.49 1232.94L1015.67 1225.94L1016.84 1218.93L1017.99 1211.93L1019.13 1204.93L1020.26 1197.92L1021.37 1190.92L1022.47 1183.92L1023.55 1176.91L1024.62 1169.91L1025.68 1162.91L1026.73 1155.90L1027.76 1148.90L1028.79 1141.89L1029.80 1134.89L1030.79 1127.89L1031.78 1120.88L1032.76 1113.88L1033.72 1106.88L1034.67 1099.87L1035.61 1092.87L1036.55 1085.87L1037.47 1078.86L1038.38 1071.86L1039.27 1064.86L1040.16 1057.85L1041.04 1050.85L1041.91 1043.85L1042.77 1036.84L1043.62 1029.84L1044.46 1022.84L1045.29 1015.83L1046.11 1008.83L1046.92 1001.83L1047.72 994.82L1048.52 987.82L1049.30 980.82L1050.08 973.81L1050.84 966.81L1051.60 959.81L1052.35 952.80L1053.09 945.80L1053.83 938.80L1054.55 931.79L1055.27 924.79L1055.98 917.79L1056.68 910.78L1057.38 903.78L1058.07 896.78L1058.75 889.77L1059.42 882.77L1060.08 875.77L1060.74 868.76L1061.39 861.76L1062.04 854.76L1062.67 847.75L1063.30 840.75L1063.93 833.75L1064.54 826.74L1065.16 819.74L1065.76 812.74L1066.36 805.73L1066.95 798.73L1067.53 791.73L1068.11 784.72L1068.69 777.72L1069.25 770.72L1069.81 763.71L1070.37 756.71L1070.92 749.71L1071.46 742.70L1072.00 735.70L1072.53 728.70L1073.06 721.69L1073.58 714.69L1074.10 707.69L1074.61 700.68L1075.12 693.68L1075.62 686.68L1076.12 679.67L1076.61 672.67L1077.10 665.67L1077.58 658.66L1078.05 651.66L1078.53 644.66L1078.99 637.65L1079.46 630.65L1079.92 623.65L1080.37 616.64L1080.82 609.64L1081.27 602.64L1081.71 595.63L1082.15 588.63L1082.58 581.63L1083.01 574.62L1083.43 567.62L1083.85 560.62L1084.27 553.61L1084.68 546.61L1085.09 539.61L1085.50 532.60L1085.90 525.60L1086.30 518.60L1086.69 511.59L1087.09 504.59L1087.47 497.59L1087.86 490.58L1088.24 483.58L1088.61 476.58L1088.99 469.57L1089.36 462.57L1089.73 455.57L1090.09 448.56L1090.45 441.56L1090.81 434.56L1091.16 427.55L1091.51 420.55L1091.86 413.55L1092.21 406.54L1092.55 399.54L1092.89 392.54L1093.23 385.53L1093.56 378.53L1093.89 371.53L1094.22 364.52L1094.54 357.52L1094.87 350.52L1095.19 343.51L1095.50 336.51L1095.82 329.51L1096.13 322.50L1096.44 315.50"/>
<path d="M778.17 1989.30L783.82 1982.30L789.35 1975.29L794.75 1968.29L800.03 1961.29L805.19 1954.28L810.24 1947.28L815.17 1940.28L820.01 1933.27L824.73 1926.27L829.36 1919.27L833.90 1912.26L838.34 1905.26L842.69 1898.26L846.96 1891.25L851.14 1884.25L855.24 1877.25L859.25 1870.24L863.20 1863.24L867.06 1856.24L870.86 1849.23L874.58 1842.23L878.24 1835.23L881.82 1828.22L885.35 1821.22L888.81 1814.22L892.21 1807.21L895.55 1800.21L898.83 1793.21L902.05 1786.20L905.22 1779.20L908.34 1772.20L911.40 1765.19L914.41 1758.19L917.37 1751.19L920.28 1744.18L923.14 1737.18L925.95 1730.18L928.72 1723.17L931.43 1716.17L934.10 1709.17L936.73 1702.16L939.31 1695.16L941.85 1688.16L944.34 1681.15L946.79 1674.15L949.20 1667.15L951.57 1660.14L953.90 1653.14L956.19 1646.14L958.44 1639.13L960.66 1632.13L962.83 1625.13L964.97 1618.12L967.08 1611.12L969.15 1604.12L971.18 1597.11L973.18 1590.11L975.15 1583.11L977.09 1576.10L978.99 1569.10L980.86 1562.10L982.70 1555.09L984.51 1548.09L986.30 1541.09L988.05 1534.08L989.77 1527.08L991.47 1520.08L993.14 1513.07L994.79 1506.07L996.41 1499.07L998.00 1492.06L999.57 1485.06L1001.12 1478.06L1002.64 1471.05L1004.14 1464.05L1005.61 1457.05L1007.07 1450.04L1008.50 1443.04L1009.92 1436.04L1011.31 1429.03L1012.68 1422.03L1014.03 1415.03L1015.36 1408.02L1016.68 1401.02L1017.97 1394.02L1019.25 1387.01L1020.51 1380.01L1021.75 1373.01L1022.97 1366.00L1024.18 1359.00L1025.37 1352.00L1026.54 1344.99L1027.70 1337.99L1028.84 1330.99L1029.97 1323.98L1031.08 1316.98L1032.18 1309.98L1033.26 1302.97L1034.33 1295.97L1035.39 1288.97L1036.43 1281.96L1037.46 1274.96L1038.47 1267.96L1039.47 1260.95L1040.46 1253.95L1041.44 1246.95L1042.40 1239.94L1043.35 1232.94L1044.29 1225.94L1045.22 1218.93L1046.14 1211.93L1047.04 1204.93L1047.94 1197.92L1048.82 1190.92L1049.69 1183.92L1050.56 1176.91L1051.41 1169.91L1052.25 1162.91L1053.08 1155.90L1053.90 1148.90L1054.72 1141.89L1055.52 1134.89L1056.31 1127.89L1057.10 1120.88L1057.87 1113.88L1058.64 1106.88L1059.40 1099.87L1060.14 1092.87L1060.88 1085.87L1061.61 1078.86L1062.34 1071.86L1063.05 1064.86L1063.76 1057.85L1064.46 1050.85L1065.15 1043.85L1065.83 1036.84L1066.50 1029.84L1067.17 1022.84L1067.83 1015.83L1068.48 1008.83L1069.12 1001.83L1069.76 994.82L1070.39 987.82L1071.01 980.82L1071.63 973.81L1072.24 966.81L1072.84 959.81L1073.44 952.80L1074.03 945.80L1074.61 938.80L1075.19 931.79L1075.76 924.79L1076.32 917.79L1076.88 910.78L1077.43 903.78L1077.97 896.78L1078.51 889.77L1079.05 882.77L1079.57 875.77L1080.10 868.76L1080.61 861.76L1081.12 854.76L1081.63 847.75L1082.13 840.75L1082.62 833.75L1083.11 826.74L1083.60 819.74L1084.08 812.74L1084.55 805.73L1085.02 798.73L1085.48 791.73L1085.94 784.72L1086.40 777.72L1086.85 770.72L1087.29 763.71L1087.73 756.71L1088.17 749.71L1088.60 742.70L1089.03 735.70L1089.45 728.70L1089.87 721.69L1090.28 714.69L1090.69 707.69L1091.10 700.68L1091.50 693.68L1091.90 686.68L1092.29 679.67L1092.68 672.67L1093.07 665.67L1093.45 658.66L1093.83 651.66L1094.20 644.66L1094.57 637.65L1094.94 630.65L1095.30 623.65L1095.66 616.64L1096.02 609.64L1096.37 602.64L1096.72 595.63L1097.07 588.63L1097.41 581.63L1097.75 574.62L1098.09 567.62L1098.42 560.62L1098.75 553.61L1099.08 546.61L1099.40 539.61L1099.72 532.60L1100.04 525.60L1100.36 518.60L1100.67 511.59L1100.98 504.59L1101.29 497.59L1101.59 490.58L1101.89 483.58L1102.19 476.58L1102.49 469.57L1102.78 462.57L1103.07 455.57L1103.36 448.56L1103.65 441.56L1103.93 434.56L1104.21 427.55L1104.49 420.55L1104.76 413.55L1105.04 406.54L1105.31 399.54L1105.58 392.54L1105.84 385.53L1106.11 378.53L1106.37 371.53L1106.63 364.52L1106.89 357.52L1107.14 350.52L1107.40 343.51L1107.65 336.51L1107.90 329.51L1108.14 322.50L1108.39 315.50"/>
<path d="M872.10 1989.30L876.35 1982.30L880.51 1975.29L884.57 1968.29L888.54 1961.29L892.42 1954.28L896.22 1947.28L899.93 1940.28L903.56 1933.27L907.12 1926.27L910.60 1919.27L914.01 1912.26L917.35 1905.26L920.62 1898.26L923.82 1891.25L926.96 1884.25L930.04 1877.25L933.06 1870.24L936.03 1863.24L938.93 1856.24L941.78 1849.23L944.58 1842.23L947.33 1835.23L950.02 1828.22L952.67 1821.22L955.27 1814.22L957.82 1807.21L960.33 1800.21L962.79 1793.21L965.21 1786.20L967.59 1779.20L969.93 1772.20L972.23 1765.19L974.49 1758.19L976.71 1751.19L978.90 1744.18L981.04 1737.18L983.15 1730.18L985.23 1723.17L987.27 1716.17L989.27 1709.17L991.24 1702.16L993.18 1695.16L995.08 1688.16L996.95 1681.15L998.79 1674.15L1000.60 1667.15L1002.38 1660.14L1004.12 1653.14L1005.84 1646.14L1007.53 1639.13L1009.19 1632.13L1010.82 1625.13L1012.43 1618.12L1014.01 1611.12L1015.56 1604.12L1017.08 1597.11L1018.58 1590.11L1020.06 1583.11L1021.51 1576.10L1022.94 1569.10L1024.34 1562.10L1025.72 1555.09L1027.08 1548.09L1028.41 1541.09L1029.73 1534.08L1031.02 1527.08L1032.29 1520.08L1033.54 1513.07L1034.78 1506.07L1035.99 1499.07L1037.18 1492.06L1038.36 1485.06L1039.52 1478.06L1040.66 1471.05L1041.78 1464.05L1042.89 1457.05L1043.98 1450.04L1045.05 1443.04L1046.11 1436.04L1047.15 1429.03L1048.18 1422.03L1049.19 1415.03L1050.19 1408.02L1051.18 1401.02L1052.15 1394.02L1053.10 1387.01L1054.04 1380.01L1054.97 1373.01L1055.89 1366.00L1056.79 1359.00L1057.68 1352.00L1058.56 1344.99L1059.43 1337.99L1060.29 1330.99L1061.13 1323.98L1061.96 1316.98L1062.78 1309.98L1063.60 1302.97L1064.40 1295.97L1065.18 1288.97L1065.96 1281.96L1066.73 1274.96L1067.49 1267.96L1068.24 1260.95L1068.98 1253.95L1069.71 1246.95L1070.43 1239.94L1071.15 1232.94L1071.85 1225.94L1072.54 1218.93L1073.23 1211.93L1073.91 1204.93L1074.58 1197.92L1075.24 1190.92L1075.89 1183.92L1076.54 1176.91L1077.17 1169.91L1077.80 1162.91L1078.43 1155.90L1079.04 1148.90L1079.65 1141.89L1080.25 1134.89L1080.84 1127.89L1081.43 1120.88L1082.01 1113.88L1082.58 1106.88L1083.15 1099.87L1083.71 1092.87L1084.26 1085.87L1084.81 1078.86L1085.35 1071.86L1085.88 1064.86L1086.41 1057.85L1086.93 1050.85L1087.45 1043.85L1087.96 1036.84L1088.46 1029.84L1088.96 1022.84L1089.45 1015.83L1089.94 1008.83L1090.42 1001.83L1090.90 994.82L1091.37 987.82L1091.83 980.82L1092.29 973.81L1092.75 966.81L1093.20 959.81L1093.64 952.80L1094.08 945.80L1094.52 938.80L1094.95 931.79L1095.38 924.79L1095.80 917.79L1096.21 910.78L1096.63 903.78L1097.03 896.78L1097.44 889.77L1097.83 882.77L1098.23 875.77L1098.62 868.76L1099.01 861.76L1099.39 854.76L1099.76 847.75L1100.14 840.75L1100.51 833.75L1100.87 826.74L1101.23 819.74L1101.59 812.74L1101.95 805.73L1102.30 798.73L1102.64 791.73L1102.99 784.72L1103.33 777.72L1103.66 770.72L1103.99 763.71L1104.32 756.71L1104.65 749.71L1104.97 742.70L1105.29 735.70L1105.61 728.70L1105.92 721.69L1106.23 714.69L1106.53 707.69L1106.84 700.68L1107.14 693.68L1107.43 686.68L1107.73 679.67L1108.02 672.67L1108.30 665.67L1108.59 658.66L1108.87 651.66L1109.15 644.66L1109.43 637.65L1109.70 630.65L1109.97 623.65L1110.24 616.64L1110.51 609.64L1110.77 602.64L1111.03 595.63L1111.29 588.63L1111.55 581.63L1111.80 574.62L1112.05 567.62L1112.30 560.62L1112.55 553.61L1112.79 546.61L1113.03 539.61L1113.27 532.60L1113.51 525.60L1113.75 518.60L1113.98 511.59L1114.21 504.59L1114.44 497.59L1114.67 490.58L1114.89 483.58L1115.12 476.58L1115.34 469.57L1115.56 462.57L1115.77 455.57L1115.99 448.56L1116.20 441.56L1116.41 434.56L1116.62 427.55L1116.83 420.55L1117.03 413.55L1117.24 406.54L1117.44 399.54L1117.64 392.54L1117.84 385.53L1118.04 378.53L1118.23 371.53L1118.43 364.52L1118.62 357.52L1118.81 350.52L1119.00 343.51L1119.18 336.51L1119.37 329.51L1119.55 322.50L1119.74 315.50"/>
<path d="M927.70 1989.30L931.12 1982.30L934.46 1975.29L937.73 1968.29L940.92 1961.29L944.04 1954.28L947.09 1947.28L950.07 1940.28L952.99 1933.27L955.85 1926.27L958.65 1919.27L961.39 1912.26L964.07 1905.26L966.70 1898.26L969.28 1891.25L971.80 1884.25L974.28 1877.25L976.71 1870.24L979.09 1863.24L981.42 1856.24L983.71 1849.23L985.96 1842.23L988.16 1835.23L990.33 1828.22L992.45 1821.22L994.54 1814.22L996.59 1807.21L998.61 1800.21L1000.59 1793.21L1002.53 1786.20L1004.44 1779.20L1006.32 1772.20L1008.17 1765.19L1009.98 1758.19L1011.77 1751.19L1013.52 1744.18L1015.24 1737.18L1016.94 1730.18L1018.60 1723.17L1020.24 1716.17L1021.85 1709.17L1023.43 1702.16L1024.98 1695.16L1026.51 1688.16L1028.01 1681.15L1029.49 1674.15L1030.94 1667.15L1032.37 1660.14L1033.77 1653.14L1035.15 1646.14L1036.50 1639.13L1037.83 1632.13L1039.14 1625.13L1040.43 1618.12L1041.70 1611.12L1042.94 1604.12L1044.17 1597.11L1045.37 1590.11L1046.56 1583.11L1047.72 1576.10L1048.86 1569.10L1049.99 1562.10L1051.10 1555.09L1052.18 1548.09L1053.26 1541.09L1054.31 1534.08L1055.35 1527.08L1056.37 1520.08L1057.37 1513.07L1058.36 1506.07L1059.33 1499.07L1060.29 1492.06L1061.23 1485.06L1062.16 1478.06L1063.08 1471.05L1063.98 1464.05L1064.87 1457.05L1065.74 1450.04L1066.60 1443.04L1067.45 1436.04L1068.28 1429.03L1069.11 1422.03L1069.92 1415.03L1070.72 1408.02L1071.51 1401.02L1072.29 1394.02L1073.05 1387.01L1073.81 1380.01L1074.55 1373.01L1075.29 1366.00L1076.01 1359.00L1076.73 1352.00L1077.43 1344.99L1078.13 1337.99L1078.81 1330.99L1079.49 1323.98L1080.15 1316.98L1080.81 1309.98L1081.46 1302.97L1082.10 1295.97L1082.74 1288.97L1083.36 1281.96L1083.98 1274.96L1084.58 1267.96L1085.19 1260.95L1085.78 1253.95L1086.36 1246.95L1086.94 1239.94L1087.51 1232.94L1088.08 1225.94L1088.63 1218.93L1089.18 1211.93L1089.72 1204.93L1090.26 1197.92L1090.79 1190.92L1091.31 1183.92L1091.83 1176.91L1092.34 1169.91L1092.84 1162.91L1093.34 1155.90L1093.84 1148.90L1094.32 1141.89L1094.80 1134.89L1095.28 1127.89L1095.75 1120.88L1096.21 1113.88L1096.67 1106.88L1097.12 1099.87L1097.57 1092.87L1098.01 1085.87L1098.45 1078.86L1098.89 1071.86L1099.31 1064.86L1099.74 1057.85L1100.15 1050.85L1100.57 1043.85L1100.97 1036.84L1101.38 1029.84L1101.78 1022.84L1102.17 1015.83L1102.56 1008.83L1102.95 1001.83L1103.33 994.82L1103.70 987.82L1104.08 980.82L1104.45 973.81L1104.81 966.81L1105.17 959.81L1105.53 952.80L1105.88 945.80L1106.23 938.80L1106.57 931.79L1106.91 924.79L1107.25 917.79L1107.58 910.78L1107.91 903.78L1108.24 896.78L1108.56 889.77L1108.88 882.77L1109.20 875.77L1109.51 868.76L1109.82 861.76L1110.12 854.76L1110.42 847.75L1110.72 840.75L1111.02 833.75L1111.31 826.74L1111.60 819.74L1111.89 812.74L1112.17 805.73L1112.45 798.73L1112.73 791.73L1113.00 784.72L1113.27 777.72L1113.54 770.72L1113.81 763.71L1114.07 756.71L1114.33 749.71L1114.59 742.70L1114.84 735.70L1115.10 728.70L1115.35 721.69L1115.59 714.69L1115.84 707.69L1116.08 700.68L1116.32 693.68L1116.56 686.68L1116.79 679.67L1117.03 672.67L1117.26 665.67L1117.48 658.66L1117.71 651.66L1117.93 644.66L1118.15 637.65L1118.37 630.65L1118.59 623.65L1118.81 616.64L1119.02 609.64L1119.23 602.64L1119.44 595.63L1119.64 588.63L1119.85 581.63L1120.05 574.62L1120.25 567.62L1120.45 560.62L1120.65 553.61L1120.84 546.61L1121.04 539.61L1121.23 532.60L1121.42 525.60L1121.61 518.60L1121.79 511.59L1121.98 504.59L1122.16 497.59L1122.34 490.58L1122.52 483.58L1122.70 476.58L1122.88 469.57L1123.05 462.57L1123.23 455.57L1123.40 448.56L1123.57 441.56L1123.74 434.56L1123.90 427.55L1124.07 420.55L1124.23 413.55L1124.40 406.54L1124.56 399.54L1124.72 392.54L1124.88 385.53L1125.04 378.53L1125.19 371.53L1125.35 364.52L1125.50 357.52L1125.65 350.52L1125.80 343.51L1125.95 336.51L1126.10 329.51L1126.25 322.50L1126.39 315.50"/>
<path d="M964.59 1989.30L967.59 1982.03L970.52 1974.76L973.37 1967.49L976.16 1960.22L978.89 1952.95L981.55 1945.68L984.15 1938.41L986.69 1931.14L989.18 1923.87L991.61 1916.60L993.99 1909.33L996.32 1902.06L998.60 1894.79L1000.83 1887.51L1003.01 1880.24L1005.15 1872.97L1007.25 1865.70L1009.31 1858.43L1011.32 1851.16L1013.29 1843.89L1015.23 1836.62L1017.13 1829.35L1018.99 1822.08L1020.82 1814.81L1022.61 1807.54L1024.37 1800.27L1026.10 1793.00"/>
<path d="M1032.18 1766.30L1033.71 1759.29L1035.22 1752.28L1036.70 1745.27L1038.15 1738.27L1039.58 1731.26L1040.98 1724.25L1042.36 1717.24L1043.72 1710.23L1045.05 1703.22L1046.36 1696.21L1047.64 1689.20L1048.91 1682.20L1050.15 1675.19L1051.37 1668.18L1052.57 1661.17L1053.75 1654.16L1054.91 1647.15L1056.05 1640.14L1057.17 1633.13L1058.28 1626.13L1059.36 1619.12L1060.42 1612.11L1061.47 1605.10L1062.50 1598.09L1063.51 1591.08L1064.51 1584.07L1065.48 1577.07L1066.44 1570.06L1067.39 1563.05L1068.32 1556.04L1069.23 1549.03L1070.13 1542.02L1071.02 1535.01L1071.89 1528.00L1072.75 1521.00L1073.59 1513.99L1074.42 1506.98L1075.23 1499.97L1076.04 1492.96L1076.83 1485.95L1077.61 1478.94L1078.38 1471.93L1079.13 1464.93L1079.88 1457.92L1080.61 1450.91L1081.33 1443.90L1082.04 1436.89L1082.74 1429.88L1083.43 1422.87L1084.11 1415.87L1084.78 1408.86L1085.44 1401.85L1086.09 1394.84L1086.73 1387.83L1087.37 1380.82L1087.99 1373.81L1088.60 1366.80L1089.21 1359.80L1089.81 1352.79L1090.40 1345.78L1090.98 1338.77L1091.55 1331.76L1092.12 1324.75L1092.68 1317.74L1093.23 1310.73L1093.77 1303.73L1094.31 1296.72L1094.84 1289.71L1095.36 1282.70L1095.87 1275.69L1096.38 1268.68L1096.88 1261.67L1097.38 1254.67L1097.87 1247.66L1098.35 1240.65L1098.83 1233.64L1099.30 1226.63L1099.76 1219.62L1100.22 1212.61L1100.67 1205.60L1101.12 1198.60L1101.56 1191.59L1102.00 1184.58L1102.43 1177.57L1102.86 1170.56L1103.28 1163.55L1103.69 1156.54L1104.10 1149.53L1104.51 1142.53L1104.91 1135.52L1105.31 1128.51L1105.70 1121.50L1106.09 1114.49L1106.47 1107.48L1106.85 1100.47L1107.22 1093.47L1107.59 1086.46L1107.95 1079.45L1108.31 1072.44L1108.67 1065.43L1109.02 1058.42L1109.37 1051.41L1109.71 1044.40L1110.05 1037.40L1110.39 1030.39L1110.72 1023.38L1111.05 1016.37L1111.38 1009.36L1111.70 1002.35L1112.01 995.34L1112.33 988.33L1112.64 981.33L1112.95 974.32L1113.25 967.31L1113.55 960.30L1113.84 953.29L1114.14 946.28L1114.43 939.27L1114.71 932.27L1115.00 925.26L1115.28 918.25L1115.55 911.24L1115.83 904.23L1116.10 897.22L1116.37 890.21L1116.63 883.20L1116.90 876.20L1117.15 869.19L1117.41 862.18L1117.67 855.17L1117.92 848.16L1118.16 841.15L1118.41 834.14L1118.65 827.13L1118.89 820.13L1119.13 813.12L1119.37 806.11L1119.60 799.10L1119.83 792.09L1120.06 785.08L1120.28 778.07L1120.51 771.07L1120.73 764.06L1120.95 757.05L1121.16 750.04L1121.38 743.03L1121.59 736.02L1121.80 729.01L1122.00 722.00L1122.21 715.00L1122.41 707.99L1122.61 700.98L1122.81 693.97L1123.01 686.96L1123.20 679.95L1123.40 672.94L1123.59 665.93L1123.78 658.93L1123.96 651.92L1124.15 644.91L1124.33 637.90L1124.51 630.89L1124.69 623.88L1124.87 616.87L1125.05 609.87L1125.22 602.86L1125.40 595.85L1125.57 588.84L1125.74 581.83L1125.90 574.82L1126.07 567.81L1126.24 560.80L1126.40 553.80L1126.56 546.79L1126.72 539.78L1126.88 532.77L1127.04 525.76L1127.19 518.75L1127.35 511.74L1127.50 504.73L1127.65 497.73L1127.80 490.72L1127.95 483.71L1128.10 476.70L1128.25 469.69L1128.39 462.68L1128.53 455.67L1128.68 448.67L1128.82 441.66L1128.96 434.65L1129.09 427.64L1129.23 420.63L1129.37 413.62L1129.50 406.61L1129.64 399.60L1129.77 392.60L1129.90 385.59L1130.03 378.58L1130.16 371.57L1130.29 364.56L1130.41 357.55L1130.54 350.54L1130.66 343.53L1130.79 336.53L1130.91 329.52L1131.03 322.51L1131.15 315.50"/>
<path d="M991.92 1989.30L994.48 1982.03L996.97 1974.76L999.41 1967.49L1001.79 1960.22L1004.11 1952.95L1006.39 1945.68L1008.61 1938.41L1010.78 1931.14L1012.90 1923.87L1014.97 1916.60L1017.00 1909.33L1018.99 1902.06L1020.93 1894.79L1022.84 1887.51L1024.70 1880.24L1026.53 1872.97L1028.32 1865.70L1030.07 1858.43L1031.79 1851.16L1033.48 1843.89L1035.13 1836.62L1036.75 1829.35L1038.34 1822.08L1039.90 1814.81L1041.43 1807.54L1042.93 1800.27L1044.41 1793.00"/>
<path d="M1049.60 1766.30L1050.91 1759.29L1052.19 1752.28L1053.45 1745.27L1054.70 1738.27L1055.91 1731.26L1057.11 1724.25L1058.29 1717.24L1059.45 1710.23L1060.59 1703.22L1061.70 1696.21L1062.80 1689.20L1063.88 1682.20L1064.94 1675.19L1065.99 1668.18L1067.01 1661.17L1068.02 1654.16L1069.01 1647.15L1069.99 1640.14L1070.94 1633.13L1071.88 1626.13L1072.81 1619.12L1073.72 1612.11L1074.61 1605.10L1075.49 1598.09L1076.36 1591.08L1077.20 1584.07L1078.04 1577.07L1078.86 1570.06L1079.67 1563.05L1080.46 1556.04L1081.25 1549.03L1082.01 1542.02L1082.77 1535.01L1083.51 1528.00L1084.25 1521.00L1084.97 1513.99L1085.67 1506.98L1086.37 1499.97L1087.06 1492.96L1087.73 1485.95L1088.40 1478.94L1089.06 1471.93L1089.70 1464.93L1090.34 1457.92L1090.96 1450.91L1091.58 1443.90L1092.19 1436.89L1092.79 1429.88L1093.38 1422.87L1093.96 1415.87L1094.53 1408.86L1095.09 1401.85L1095.65 1394.84L1096.20 1387.83L1096.74 1380.82L1097.27 1373.81L1097.80 1366.80L1098.32 1359.80L1098.83 1352.79L1099.33 1345.78L1099.83 1338.77L1100.32 1331.76L1100.80 1324.75L1101.28 1317.74L1101.75 1310.73L1102.21 1303.73L1102.67 1296.72L1103.12 1289.71L1103.57 1282.70L1104.01 1275.69L1104.44 1268.68L1104.87 1261.67L1105.30 1254.67L1105.72 1247.66L1106.13 1240.65L1106.54 1233.64L1106.94 1226.63L1107.34 1219.62L1107.73 1212.61L1108.11 1205.60L1108.50 1198.60L1108.88 1191.59L1109.25 1184.58L1109.62 1177.57L1109.98 1170.56L1110.34 1163.55L1110.70 1156.54L1111.05 1149.53L1111.40 1142.53L1111.74 1135.52L1112.08 1128.51L1112.41 1121.50L1112.74 1114.49L1113.07 1107.48L1113.39 1100.47L1113.71 1093.47L1114.03 1086.46L1114.34 1079.45L1114.65 1072.44L1114.95 1065.43L1115.25 1058.42L1115.55 1051.41L1115.85 1044.40L1116.14 1037.40L1116.42 1030.39L1116.71 1023.38L1116.99 1016.37L1117.27 1009.36L1117.54 1002.35L1117.81 995.34L1118.08 988.33L1118.35 981.33L1118.61 974.32L1118.87 967.31L1119.13 960.30L1119.38 953.29L1119.63 946.28L1119.88 939.27L1120.12 932.27L1120.37 925.26L1120.60 918.25L1120.84 911.24L1121.08 904.23L1121.31 897.22L1121.54 890.21L1121.76 883.20L1121.99 876.20L1122.21 869.19L1122.43 862.18L1122.65 855.17L1122.86 848.16L1123.07 841.15L1123.29 834.14L1123.49 827.13L1123.70 820.13L1123.90 813.12L1124.10 806.11L1124.30 799.10L1124.50 792.09L1124.69 785.08L1124.89 778.07L1125.08 771.07L1125.27 764.06L1125.45 757.05L1125.64 750.04L1125.82 743.03L1126.00 736.02L1126.18 729.01L1126.36 722.00L1126.54 715.00L1126.71 707.99L1126.88 700.98L1127.05 693.97L1127.22 686.96L1127.39 679.95L1127.55 672.94L1127.72 665.93L1127.88 658.93L1128.04 651.92L1128.20 644.91L1128.35 637.90L1128.51 630.89L1128.66 623.88L1128.81 616.87L1128.97 609.87L1129.12 602.86L1129.26 595.85L1129.41 588.84L1129.56 581.83L1129.70 574.82L1129.84 567.81L1129.98 560.80L1130.12 553.80L1130.26 546.79L1130.40 539.78L1130.53 532.77L1130.67 525.76L1130.80 518.75L1130.93 511.74L1131.07 504.73L1131.19 497.73L1131.32 490.72L1131.45 483.71L1131.58 476.70L1131.70 469.69L1131.83 462.68L1131.95 455.67L1132.07 448.67L1132.19 441.66L1132.31 434.65L1132.43 427.64L1132.55 420.63L1132.66 413.62L1132.78 406.61L1132.89 399.60L1133.01 392.60L1133.12 385.59L1133.23 378.58L1133.34 371.57L1133.45 364.56L1133.56 357.55L1133.67 350.54L1133.77 343.53L1133.88 336.53L1133.98 329.52L1134.09 322.51L1134.19 315.50"/>
<path d="M1027.06 1989.30L1029.07 1982.03L1031.03 1974.76L1032.94 1967.49L1034.81 1960.22L1036.63 1952.95L1038.41 1945.68L1040.15 1938.41L1041.85 1931.14L1043.51 1923.87L1045.14 1916.60L1046.73 1909.33L1048.29 1902.06L1049.81 1894.79L1051.31 1887.51L1052.77 1880.24L1054.20 1872.97L1055.60 1865.70L1056.98 1858.43L1058.32 1851.16L1059.64 1843.89L1060.94 1836.62L1062.21 1829.35L1063.45 1822.08L1064.67 1814.81L1065.87 1807.54L1067.05 1800.27L1068.21 1793.00"/>
<path d="M1072.27 1766.30L1073.29 1759.29L1074.30 1752.28L1075.29 1745.27L1076.26 1738.27L1077.21 1731.26L1078.15 1724.25L1079.07 1717.24L1079.98 1710.23L1080.87 1703.22L1081.74 1696.21L1082.60 1689.20L1083.45 1682.20L1084.28 1675.19L1085.10 1668.18L1085.90 1661.17L1086.69 1654.16L1087.46 1647.15L1088.22 1640.14L1088.97 1633.13L1089.71 1626.13L1090.43 1619.12L1091.14 1612.11L1091.84 1605.10L1092.53 1598.09L1093.20 1591.08L1093.87 1584.07L1094.52 1577.07L1095.16 1570.06L1095.79 1563.05L1096.42 1556.04L1097.03 1549.03L1097.63 1542.02L1098.22 1535.01L1098.80 1528.00L1099.37 1521.00L1099.93 1513.99L1100.49 1506.98L1101.03 1499.97L1101.57 1492.96L1102.10 1485.95L1102.62 1478.94L1103.13 1471.93L1103.63 1464.93L1104.13 1457.92L1104.62 1450.91L1105.10 1443.90L1105.58 1436.89L1106.04 1429.88L1106.50 1422.87L1106.96 1415.87L1107.41 1408.86L1107.85 1401.85L1108.28 1394.84L1108.71 1387.83L1109.13 1380.82L1109.55 1373.81L1109.96 1366.80L1110.36 1359.80L1110.76 1352.79L1111.15 1345.78L1111.54 1338.77L1111.93 1331.76L1112.30 1324.75L1112.68 1317.74L1113.04 1310.73L1113.41 1303.73L1113.76 1296.72L1114.12 1289.71L1114.46 1282.70L1114.81 1275.69L1115.15 1268.68L1115.48 1261.67L1115.81 1254.67L1116.14 1247.66L1116.46 1240.65L1116.78 1233.64L1117.09 1226.63L1117.40 1219.62L1117.71 1212.61L1118.01 1205.60L1118.31 1198.60L1118.60 1191.59L1118.89 1184.58L1119.18 1177.57L1119.47 1170.56L1119.75 1163.55L1120.02 1156.54L1120.30 1149.53L1120.57 1142.53L1120.84 1135.52L1121.10 1128.51L1121.36 1121.50L1121.62 1114.49L1121.88 1107.48L1122.13 1100.47L1122.38 1093.47L1122.62 1086.46L1122.87 1079.45L1123.11 1072.44L1123.34 1065.43L1123.58 1058.42L1123.81 1051.41L1124.04 1044.40L1124.27 1037.40L1124.49 1030.39L1124.71 1023.38L1124.93 1016.37L1125.15 1009.36L1125.36 1002.35L1125.57 995.34L1125.78 988.33L1125.99 981.33L1126.19 974.32L1126.40 967.31L1126.60 960.30L1126.79 953.29L1126.99 946.28L1127.18 939.27L1127.37 932.27L1127.56 925.26L1127.75 918.25L1127.93 911.24L1128.12 904.23L1128.30 897.22L1128.47 890.21L1128.65 883.20L1128.83 876.20L1129.00 869.19L1129.17 862.18L1129.34 855.17L1129.51 848.16L1129.67 841.15L1129.84 834.14L1130.00 827.13L1130.16 820.13L1130.32 813.12L1130.47 806.11L1130.63 799.10L1130.78 792.09L1130.93 785.08L1131.08 778.07L1131.23 771.07L1131.38 764.06L1131.52 757.05L1131.67 750.04L1131.81 743.03L1131.95 736.02L1132.09 729.01L1132.23 722.00L1132.37 715.00L1132.50 707.99L1132.64 700.98L1132.77 693.97L1132.90 686.96L1133.03 679.95L1133.16 672.94L1133.28 665.93L1133.41 658.93L1133.54 651.92L1133.66 644.91L1133.78 637.90L1133.90 630.89L1134.02 623.88L1134.14 616.87L1134.26 609.87L1134.37 602.86L1134.49 595.85L1134.60 588.84L1134.72 581.83L1134.83 574.82L1134.94 567.81L1135.05 560.80L1135.16 553.80L1135.27 546.79L1135.37 539.78L1135.48 532.77L1135.58 525.76L1135.69 518.75L1135.79 511.74L1135.89 504.73L1135.99 497.73L1136.09 490.72L1136.19 483.71L1136.29 476.70L1136.39 469.69L1136.48 462.68L1136.58 455.67L1136.67 448.67L1136.77 441.66L1136.86 434.65L1136.95 427.64L1137.04 420.63L1137.13 413.62L1137.22 406.61L1137.31 399.60L1137.40 392.60L1137.49 385.59L1137.58 378.58L1137.66 371.57L1137.75 364.56L1137.83 357.55L1137.91 350.54L1138.00 343.53L1138.08 336.53L1138.16 329.52L1138.24 322.51L1138.32 315.50"/>
<path d="M1050.39 1989.30L1052.03 1982.03L1053.63 1974.76L1055.19 1967.49L1056.71 1960.22L1058.20 1952.95L1059.65 1945.68L1061.07 1938.41L1062.45 1931.14L1063.81 1923.87L1065.14 1916.60L1066.44 1909.33L1067.71 1902.06L1068.95 1894.79L1070.17 1887.51L1071.36 1880.24L1072.52 1872.97L1073.67 1865.70L1074.79 1858.43L1075.89 1851.16L1076.96 1843.89L1078.02 1836.62L1079.05 1829.35L1080.07 1822.08L1081.06 1814.81L1082.04 1807.54L1083.00 1800.27L1083.94 1793.00"/>
<path d="M1087.25 1766.30L1088.09 1759.29L1088.91 1752.28L1089.71 1745.27L1090.50 1738.27L1091.28 1731.26L1092.05 1724.25L1092.80 1717.24L1093.53 1710.23L1094.26 1703.22L1094.97 1696.21L1095.67 1689.20L1096.36 1682.20L1097.04 1675.19L1097.70 1668.18L1098.36 1661.17L1099.00 1654.16L1099.63 1647.15L1100.25 1640.14L1100.86 1633.13L1101.46 1626.13L1102.05 1619.12L1102.63 1612.11L1103.20 1605.10L1103.76 1598.09L1104.31 1591.08L1104.85 1584.07L1105.38 1577.07L1105.90 1570.06L1106.42 1563.05L1106.92 1556.04L1107.42 1549.03L1107.91 1542.02L1108.39 1535.01L1108.86 1528.00L1109.33 1521.00L1109.79 1513.99L1110.24 1506.98L1110.68 1499.97L1111.12 1492.96L1111.55 1485.95L1111.97 1478.94L1112.39 1471.93L1112.80 1464.93L1113.20 1457.92L1113.60 1450.91L1113.99 1443.90L1114.38 1436.89L1114.76 1429.88L1115.14 1422.87L1115.51 1415.87L1115.87 1408.86L1116.23 1401.85L1116.58 1394.84L1116.93 1387.83L1117.27 1380.82L1117.61 1373.81L1117.95 1366.80L1118.28 1359.80L1118.60 1352.79L1118.92 1345.78L1119.24 1338.77L1119.55 1331.76L1119.86 1324.75L1120.16 1317.74L1120.46 1310.73L1120.75 1303.73L1121.04 1296.72L1121.33 1289.71L1121.61 1282.70L1121.89 1275.69L1122.17 1268.68L1122.44 1261.67L1122.71 1254.67L1122.98 1247.66L1123.24 1240.65L1123.50 1233.64L1123.75 1226.63L1124.00 1219.62L1124.25 1212.61L1124.50 1205.60L1124.74 1198.60L1124.98 1191.59L1125.22 1184.58L1125.45 1177.57L1125.68 1170.56L1125.91 1163.55L1126.14 1156.54L1126.36 1149.53L1126.58 1142.53L1126.80 1135.52L1127.01 1128.51L1127.23 1121.50L1127.44 1114.49L1127.64 1107.48L1127.85 1100.47L1128.05 1093.47L1128.25 1086.46L1128.45 1079.45L1128.64 1072.44L1128.84 1065.43L1129.03 1058.42L1129.22 1051.41L1129.40 1044.40L1129.59 1037.40L1129.77 1030.39L1129.95 1023.38L1130.13 1016.37L1130.30 1009.36L1130.48 1002.35L1130.65 995.34L1130.82 988.33L1130.99 981.33L1131.15 974.32L1131.32 967.31L1131.48 960.30L1131.64 953.29L1131.80 946.28L1131.96 939.27L1132.11 932.27L1132.27 925.26L1132.42 918.25L1132.57 911.24L1132.72 904.23L1132.86 897.22L1133.01 890.21L1133.15 883.20L1133.29 876.20L1133.43 869.19L1133.57 862.18L1133.71 855.17L1133.85 848.16L1133.98 841.15L1134.11 834.14L1134.25 827.13L1134.38 820.13L1134.51 813.12L1134.63 806.11L1134.76 799.10L1134.88 792.09L1135.01 785.08L1135.13 778.07L1135.25 771.07L1135.37 764.06L1135.49 757.05L1135.60 750.04L1135.72 743.03L1135.83 736.02L1135.95 729.01L1136.06 722.00L1136.17 715.00L1136.28 707.99L1136.39 700.98L1136.50 693.97L1136.60 686.96L1136.71 679.95L1136.81 672.94L1136.92 665.93L1137.02 658.93L1137.12 651.92L1137.22 644.91L1137.32 637.90L1137.42 630.89L1137.52 623.88L1137.61 616.87L1137.71 609.87L1137.80 602.86L1137.90 595.85L1137.99 588.84L1138.08 581.83L1138.17 574.82L1138.26 567.81L1138.35 560.80L1138.44 553.80L1138.53 546.79L1138.61 539.78L1138.70 532.77L1138.78 525.76L1138.87 518.75L1138.95 511.74L1139.04 504.73L1139.12 497.73L1139.20 490.72L1139.28 483.71L1139.36 476.70L1139.44 469.69L1139.52 462.68L1139.59 455.67L1139.67 448.67L1139.75 441.66L1139.82 434.65L1139.90 427.64L1139.97 420.63L1140.05 413.62L1140.12 406.61L1140.19 399.60L1140.26 392.60L1140.33 385.59L1140.40 378.58L1140.47 371.57L1140.54 364.56L1140.61 357.55L1140.68 350.54L1140.75 343.53L1140.81 336.53L1140.88 329.52L1140.95 322.51L1141.01 315.50"/>
</g>
<rect x="316.50" y="315.50" width="836.00" height="1673.80" fill="none" stroke="#1c1a1b" stroke-width="2.5"/>
<path d="M1114.50 1989.30v-4.80M1114.50 315.50v4.80M1076.50 1989.30v-4.80M1076.50 315.50v4.80M1038.50 1989.30v-4.80M1038.50 315.50v4.80M1000.50 1989.30v-4.80M1000.50 315.50v4.80M962.50 1989.30v-4.80M962.50 315.50v4.80M924.50 1989.30v-4.80M924.50 315.50v4.80M886.50 1989.30v-4.80M886.50 315.50v4.80M848.50 1989.30v-4.80M848.50 315.50v4.80M810.50 1989.30v-4.80M810.50 315.50v4.80M772.50 1989.30v-4.80M772.50 315.50v4.80M734.50 1989.30v-4.80M734.50 315.50v4.80M696.50 1989.30v-4.80M696.50 315.50v4.80M658.50 1989.30v-4.80M658.50 315.50v4.80M620.50 1989.30v-4.80M620.50 315.50v4.80M582.50 1989.30v-4.80M582.50 315.50v4.80M544.50 1989.30v-4.80M544.50 315.50v4.80M506.50 1989.30v-4.80M506.50 315.50v4.80M468.50 1989.30v-4.80M468.50 315.50v4.80M430.50 1989.30v-4.80M430.50 315.50v4.80M392.50 1989.30v-4.80M392.50 315.50v4.80M354.50 1989.30v-4.80M354.50 315.50v4.80M316.50 1947.45h4.80M1152.50 1947.45h-4.80M316.50 1905.61h4.80M1152.50 1905.61h-4.80M316.50 1863.77h4.80M1152.50 1863.77h-4.80M316.50 1821.92h4.80M1152.50 1821.92h-4.80M316.50 1780.08h4.80M1152.50 1780.08h-4.80M316.50 1738.23h4.80M1152.50 1738.23h-4.80M316.50 1696.38h4.80M1152.50 1696.38h-4.80M316.50 1654.54h4.80M1152.50 1654.54h-4.80M316.50 1612.69h4.80M1152.50 1612.69h-4.80M316.50 1570.85h4.80M1152.50 1570.85h-4.80M316.50 1529.00h4.80M1152.50 1529.00h-4.80M316.50 1487.16h4.80M1152.50 1487.16h-4.80M316.50 1445.32h4.80M1152.50 1445.32h-4.80M316.50 1403.47h4.80M1152.50 1403.47h-4.80M316.50 1361.62h4.80M1152.50 1361.62h-4.80M316.50 1319.78h4.80M1152.50 1319.78h-4.80M316.50 1277.93h4.80M1152.50 1277.93h-4.80M316.50 1236.09h4.80M1152.50 1236.09h-4.80M316.50 1194.24h4.80M1152.50 1194.24h-4.80M316.50 1152.40h4.80M1152.50 1152.40h-4.80M316.50 1110.56h4.80M1152.50 1110.56h-4.80M316.50 1068.71h4.80M1152.50 1068.71h-4.80M316.50 1026.86h4.80M1152.50 1026.86h-4.80M316.50 985.02h4.80M1152.50 985.02h-4.80M316.50 943.17h4.80M1152.50 943.17h-4.80M316.50 901.33h4.80M1152.50 901.33h-4.80M316.50 859.48h4.80M1152.50 859.48h-4.80M316.50 817.64h4.80M1152.50 817.64h-4.80M316.50 775.79h4.80M1152.50 775.79h-4.80M316.50 733.95h4.80M1152.50 733.95h-4.80M316.50 692.11h4.80M1152.50 692.11h-4.80M316.50 650.26h4.80M1152.50 650.26h-4.80M316.50 608.41h4.80M1152.50 608.41h-4.80M316.50 566.57h4.80M1152.50 566.57h-4.80M316.50 524.72h4.80M1152.50 524.72h-4.80M316.50 482.88h4.80M1152.50 482.88h-4.80M316.50 441.03h4.80M1152.50 441.03h-4.80M316.50 399.19h4.80M1152.50 399.19h-4.80M316.50 357.34h4.80M1152.50 357.34h-4.80" stroke="#3a3a3a" stroke-width="0.9" fill="none"/>
<text transform="translate(1160.50 1994.90) rotate(-90)" text-anchor="end" font-size="19.4">0</text>
<text transform="translate(1160.50 310.60) rotate(-90)" text-anchor="start" font-size="19.4">0</text>
<text transform="translate(1120.40 1994.90) rotate(-90)" text-anchor="end" font-size="19.4">0,001</text>
<text transform="translate(1120.40 310.60) rotate(-90)" text-anchor="start" font-size="19.4">0,001</text>
<text transform="translate(1082.40 1994.90) rotate(-90)" text-anchor="end" font-size="19.4">0,002</text>
<text transform="translate(1082.40 310.60) rotate(-90)" text-anchor="start" font-size="19.4">0,002</text>
<text transform="translate(1044.40 1994.90) rotate(-90)" text-anchor="end" font-size="19.4">0,003</text>
<text transform="translate(1044.40 310.60) rotate(-90)" text-anchor="start" font-size="19.4">0,003</text>
<text transform="translate(1006.40 1994.90) rotate(-90)" text-anchor="end" font-size="19.4">0,004</text>
<text transform="translate(1006.40 310.60) rotate(-90)" text-anchor="start" font-size="19.4">0,004</text>
<text transform="translate(968.40 1994.90) rotate(-90)" text-anchor="end" font-size="19.4">0,005</text>
<text transform="translate(968.40 310.60) rotate(-90)" text-anchor="start" font-size="19.4">0,005</text>
<text transform="translate(930.40 1994.90) rotate(-90)" text-anchor="end" font-size="19.4">0,006</text>
<text transform="translate(930.40 310.60) rotate(-90)" text-anchor="start" font-size="19.4">0,006</text>
<text transform="translate(892.40 1994.90) rotate(-90)" text-anchor="end" font-size="19.4">0,007</text>
<text transform="translate(892.40 310.60) rotate(-90)" text-anchor="start" font-size="19.4">0,007</text>
<text transform="translate(854.40 1994.90) rotate(-90)" text-anchor="end" font-size="19.4">0,008</text>
<text transform="translate(854.40 310.60) rotate(-90)" text-anchor="start" font-size="19.4">0,008</text>
<text transform="translate(816.40 1994.90) rotate(-90)" text-anchor="end" font-size="19.4">0,009</text>
<text transform="translate(816.40 310.60) rotate(-90)" text-anchor="start" font-size="19.4">0,009</text>
<text transform="translate(778.40 1994.90) rotate(-90)" text-anchor="end" font-size="19.4">0,010</text>
<text transform="translate(778.40 310.60) rotate(-90)" text-anchor="start" font-size="19.4">0,010</text>
<text transform="translate(740.40 1994.90) rotate(-90)" text-anchor="end" font-size="19.4">0,011</text>
<text transform="translate(740.40 310.60) rotate(-90)" text-anchor="start" font-size="19.4">0,011</text>
<text transform="translate(702.40 1994.90) rotate(-90)" text-anchor="end" font-size="19.4">0,012</text>
<text transform="translate(702.40 310.60) rotate(-90)" text-anchor="start" font-size="19.4">0,012</text>
<text transform="translate(664.40 1994.90) rotate(-90)" text-anchor="end" font-size="19.4">0,013</text>
<text transform="translate(664.40 310.60) rotate(-90)" text-anchor="start" font-size="19.4">0,013</text>
<text transform="translate(626.40 1994.90) rotate(-90)" text-anchor="end" font-size="19.4">0,014</text>
<text transform="translate(626.40 310.60) rotate(-90)" text-anchor="start" font-size="19.4">0,014</text>
<text transform="translate(588.40 1994.90) rotate(-90)" text-anchor="end" font-size="19.4">0,015</text>
<text transform="translate(588.40 310.60) rotate(-90)" text-anchor="start" font-size="19.4">0,015</text>
<text transform="translate(550.40 1994.90) rotate(-90)" text-anchor="end" font-size="19.4">0,016</text>
<text transform="translate(550.40 310.60) rotate(-90)" text-anchor="start" font-size="19.4">0,016</text>
<text transform="translate(512.40 1994.90) rotate(-90)" text-anchor="end" font-size="19.4">0,017</text>
<text transform="translate(512.40 310.60) rotate(-90)" text-anchor="start" font-size="19.4">0,017</text>
<text transform="translate(474.40 1994.90) rotate(-90)" text-anchor="end" font-size="19.4">0,018</text>
<text transform="translate(474.40 310.60) rotate(-90)" text-anchor="start" font-size="19.4">0,018</text>
<text transform="translate(436.40 1994.90) rotate(-90)" text-anchor="end" font-size="19.4">0,019</text>
<text transform="translate(436.40 310.60) rotate(-90)" text-anchor="start" font-size="19.4">0,019</text>
<text transform="translate(398.40 1994.90) rotate(-90)" text-anchor="end" font-size="19.4">0,020</text>
<text transform="translate(398.40 310.60) rotate(-90)" text-anchor="start" font-size="19.4">0,020</text>
<text transform="translate(360.40 1994.90) rotate(-90)" text-anchor="end" font-size="19.4">0,021</text>
<text transform="translate(360.40 310.60) rotate(-90)" text-anchor="start" font-size="19.4">0,021</text>
<text transform="translate(322.40 1994.90) rotate(-90)" text-anchor="end" font-size="19.4">0,022</text>
<text transform="translate(322.40 310.60) rotate(-90)" text-anchor="start" font-size="19.4">0,022</text>
<text transform="translate(303.30 1989.30) rotate(-90)" text-anchor="middle" font-size="19.4">2,0</text>
<text transform="translate(1176.00 1989.30) rotate(-90)" text-anchor="middle" font-size="19.4">2,0</text>
<text transform="translate(303.30 1947.45) rotate(-90)" text-anchor="middle" font-size="19.4">2,1</text>
<text transform="translate(1176.00 1947.45) rotate(-90)" text-anchor="middle" font-size="19.4">2,1</text>
<text transform="translate(303.30 1905.61) rotate(-90)" text-anchor="middle" font-size="19.4">2,2</text>
<text transform="translate(1176.00 1905.61) rotate(-90)" text-anchor="middle" font-size="19.4">2,2</text>
<text transform="translate(303.30 1863.77) rotate(-90)" text-anchor="middle" font-size="19.4">2,3</text>
<text transform="translate(1176.00 1863.77) rotate(-90)" text-anchor="middle" font-size="19.4">2,3</text>
<text transform="translate(303.30 1821.92) rotate(-90)" text-anchor="middle" font-size="19.4">2,4</text>
<text transform="translate(1176.00 1821.92) rotate(-90)" text-anchor="middle" font-size="19.4">2,4</text>
<text transform="translate(303.30 1780.08) rotate(-90)" text-anchor="middle" font-size="19.4">2,5</text>
<text transform="translate(1176.00 1780.08) rotate(-90)" text-anchor="middle" font-size="19.4">2,5</text>
<text transform="translate(303.30 1738.23) rotate(-90)" text-anchor="middle" font-size="19.4">2,6</text>
<text transform="translate(1176.00 1738.23) rotate(-90)" text-anchor="middle" font-size="19.4">2,6</text>
<text transform="translate(303.30 1696.38) rotate(-90)" text-anchor="middle" font-size="19.4">2,7</text>
<text transform="translate(1176.00 1696.38) rotate(-90)" text-anchor="middle" font-size="19.4">2,7</text>
<text transform="translate(303.30 1654.54) rotate(-90)" text-anchor="middle" font-size="19.4">2,8</text>
<text transform="translate(1176.00 1654.54) rotate(-90)" text-anchor="middle" font-size="19.4">2,8</text>
<text transform="translate(303.30 1612.69) rotate(-90)" text-anchor="middle" font-size="19.4">2,9</text>
<text transform="translate(1176.00 1612.69) rotate(-90)" text-anchor="middle" font-size="19.4">2,9</text>
<text transform="translate(303.30 1570.85) rotate(-90)" text-anchor="middle" font-size="19.4">3,0</text>
<text transform="translate(1176.00 1570.85) rotate(-90)" text-anchor="middle" font-size="19.4">3,0</text>
<text transform="translate(303.30 1529.00) rotate(-90)" text-anchor="middle" font-size="19.4">3,1</text>
<text transform="translate(1176.00 1529.00) rotate(-90)" text-anchor="middle" font-size="19.4">3,1</text>
<text transform="translate(303.30 1487.16) rotate(-90)" text-anchor="middle" font-size="19.4">3,2</text>
<text transform="translate(1176.00 1487.16) rotate(-90)" text-anchor="middle" font-size="19.4">3,2</text>
<text transform="translate(303.30 1445.32) rotate(-90)" text-anchor="middle" font-size="19.4">3,3</text>
<text transform="translate(1176.00 1445.32) rotate(-90)" text-anchor="middle" font-size="19.4">3,3</text>
<text transform="translate(303.30 1403.47) rotate(-90)" text-anchor="middle" font-size="19.4">3,4</text>
<text transform="translate(1176.00 1403.47) rotate(-90)" text-anchor="middle" font-size="19.4">3,4</text>
<text transform="translate(303.30 1361.62) rotate(-90)" text-anchor="middle" font-size="19.4">3,5</text>
<text transform="translate(1176.00 1361.62) rotate(-90)" text-anchor="middle" font-size="19.4">3,5</text>
<text transform="translate(303.30 1319.78) rotate(-90)" text-anchor="middle" font-size="19.4">3,6</text>
<text transform="translate(1176.00 1319.78) rotate(-90)" text-anchor="middle" font-size="19.4">3,6</text>
<text transform="translate(303.30 1277.93) rotate(-90)" text-anchor="middle" font-size="19.4">3,7</text>
<text transform="translate(1176.00 1277.93) rotate(-90)" text-anchor="middle" font-size="19.4">3,7</text>
<text transform="translate(303.30 1236.09) rotate(-90)" text-anchor="middle" font-size="19.4">3,8</text>
<text transform="translate(1176.00 1236.09) rotate(-90)" text-anchor="middle" font-size="19.4">3,8</text>
<text transform="translate(303.30 1194.24) rotate(-90)" text-anchor="middle" font-size="19.4">3,9</text>
<text transform="translate(1176.00 1194.24) rotate(-90)" text-anchor="middle" font-size="19.4">3,9</text>
<text transform="translate(303.30 1152.40) rotate(-90)" text-anchor="middle" font-size="19.4">4,0</text>
<text transform="translate(1176.00 1152.40) rotate(-90)" text-anchor="middle" font-size="19.4">4,0</text>
<text transform="translate(303.30 1110.56) rotate(-90)" text-anchor="middle" font-size="19.4">4,1</text>
<text transform="translate(1176.00 1110.56) rotate(-90)" text-anchor="middle" font-size="19.4">4,1</text>
<text transform="translate(303.30 1068.71) rotate(-90)" text-anchor="middle" font-size="19.4">4,2</text>
<text transform="translate(1176.00 1068.71) rotate(-90)" text-anchor="middle" font-size="19.4">4,2</text>
<text transform="translate(303.30 1026.86) rotate(-90)" text-anchor="middle" font-size="19.4">4,3</text>
<text transform="translate(1176.00 1026.86) rotate(-90)" text-anchor="middle" font-size="19.4">4,3</text>
<text transform="translate(303.30 985.02) rotate(-90)" text-anchor="middle" font-size="19.4">4,4</text>
<text transform="translate(1176.00 985.02) rotate(-90)" text-anchor="middle" font-size="19.4">4,4</text>
<text transform="translate(303.30 943.17) rotate(-90)" text-anchor="middle" font-size="19.4">4,5</text>
<text transform="translate(1176.00 943.17) rotate(-90)" text-anchor="middle" font-size="19.4">4,5</text>
<text transform="translate(303.30 901.33) rotate(-90)" text-anchor="middle" font-size="19.4">4,6</text>
<text transform="translate(1176.00 901.33) rotate(-90)" text-anchor="middle" font-size="19.4">4,6</text>
<text transform="translate(303.30 859.48) rotate(-90)" text-anchor="middle" font-size="19.4">4,7</text>
<text transform="translate(1176.00 859.48) rotate(-90)" text-anchor="middle" font-size="19.4">4,7</text>
<text transform="translate(303.30 817.64) rotate(-90)" text-anchor="middle" font-size="19.4">4,8</text>
<text transform="translate(1176.00 817.64) rotate(-90)" text-anchor="middle" font-size="19.4">4,8</text>
<text transform="translate(303.30 775.79) rotate(-90)" text-anchor="middle" font-size="19.4">4,9</text>
<text transform="translate(1176.00 775.79) rotate(-90)" text-anchor="middle" font-size="19.4">4,9</text>
<text transform="translate(303.30 733.95) rotate(-90)" text-anchor="middle" font-size="19.4">5,0</text>
<text transform="translate(1176.00 733.95) rotate(-90)" text-anchor="middle" font-size="19.4">5,0</text>
<text transform="translate(303.30 692.11) rotate(-90)" text-anchor="middle" font-size="19.4">5,1</text>
<text transform="translate(1176.00 692.11) rotate(-90)" text-anchor="middle" font-size="19.4">5,1</text>
<text transform="translate(303.30 650.26) rotate(-90)" text-anchor="middle" font-size="19.4">5,2</text>
<text transform="translate(1176.00 650.26) rotate(-90)" text-anchor="middle" font-size="19.4">5,2</text>
<text transform="translate(303.30 608.41) rotate(-90)" text-anchor="middle" font-size="19.4">5,3</text>
<text transform="translate(1176.00 608.41) rotate(-90)" text-anchor="middle" font-size="19.4">5,3</text>
<text transform="translate(303.30 566.57) rotate(-90)" text-anchor="middle" font-size="19.4">5,4</text>
<text transform="translate(1176.00 566.57) rotate(-90)" text-anchor="middle" font-size="19.4">5,4</text>
<text transform="translate(303.30 524.72) rotate(-90)" text-anchor="middle" font-size="19.4">5,5</text>
<text transform="translate(1176.00 524.72) rotate(-90)" text-anchor="middle" font-size="19.4">5,5</text>
<text transform="translate(303.30 482.88) rotate(-90)" text-anchor="middle" font-size="19.4">5,6</text>
<text transform="translate(1176.00 482.88) rotate(-90)" text-anchor="middle" font-size="19.4">5,6</text>
<text transform="translate(303.30 441.03) rotate(-90)" text-anchor="middle" font-size="19.4">5,7</text>
<text transform="translate(1176.00 441.03) rotate(-90)" text-anchor="middle" font-size="19.4">5,7</text>
<text transform="translate(303.30 399.19) rotate(-90)" text-anchor="middle" font-size="19.4">5,8</text>
<text transform="translate(1176.00 399.19) rotate(-90)" text-anchor="middle" font-size="19.4">5,8</text>
<text transform="translate(303.30 357.34) rotate(-90)" text-anchor="middle" font-size="19.4">5,9</text>
<text transform="translate(1176.00 357.34) rotate(-90)" text-anchor="middle" font-size="19.4">5,9</text>
<text transform="translate(303.30 315.50) rotate(-90)" text-anchor="middle" font-size="19.4">6,0</text>
<text transform="translate(1176.00 315.50) rotate(-90)" text-anchor="middle" font-size="19.4">6,0</text>
<rect x="316.50" y="315.50" width="197.40" height="276.20" fill="#fff" stroke="#1c1a1b" stroke-width="2.1"/>
<rect x="415.30" y="335.2" width="4.6" height="233.6" fill="#232021"/>
<rect x="472.20" y="335.2" width="4.6" height="233.6" fill="#232021"/>
<path d="M367.20 398.70H407.20" stroke="#1c1a1b" stroke-width="1.9" fill="none"/><path d="M415.60 398.70L401.60 394.40L401.60 403.00Z" fill="#1c1a1b"/>
<path d="M367.20 414.03H407.20" stroke="#1c1a1b" stroke-width="1.9" fill="none"/><path d="M415.60 414.03L401.60 409.73L401.60 418.33Z" fill="#1c1a1b"/>
<path d="M367.20 429.36H407.20" stroke="#1c1a1b" stroke-width="1.9" fill="none"/><path d="M415.60 429.36L401.60 425.06L401.60 433.66Z" fill="#1c1a1b"/>
<path d="M367.20 444.69H407.20" stroke="#1c1a1b" stroke-width="1.9" fill="none"/><path d="M415.60 444.69L401.60 440.39L401.60 448.99Z" fill="#1c1a1b"/>
<path d="M367.20 460.02H407.20" stroke="#1c1a1b" stroke-width="1.9" fill="none"/><path d="M415.60 460.02L401.60 455.72L401.60 464.32Z" fill="#1c1a1b"/>
<path d="M367.20 475.35H407.20" stroke="#1c1a1b" stroke-width="1.9" fill="none"/><path d="M415.60 475.35L401.60 471.05L401.60 479.65Z" fill="#1c1a1b"/>
<path d="M367.20 490.68H407.20" stroke="#1c1a1b" stroke-width="1.9" fill="none"/><path d="M415.60 490.68L401.60 486.38L401.60 494.98Z" fill="#1c1a1b"/>
<path d="M367.20 506.01H407.20" stroke="#1c1a1b" stroke-width="1.9" fill="none"/><path d="M415.60 506.01L401.60 501.71L401.60 510.31Z" fill="#1c1a1b"/>
<path d="M328.8 398.6H363.5M328.8 505.9H363.5M342.4 402V503" stroke="#1c1a1b" stroke-width="1.4" fill="none"/>
<path d="M342.4 399.0l-3.9 14.6l3.9 -1.8l3.9 1.8zM342.4 505.5l-3.9 -14.6l3.9 1.8l3.9 -1.8z" fill="#1c1a1b"/>
<path d="M424 351.7H468" stroke="#1c1a1b" stroke-width="1.4" fill="none"/>
<path d="M420 351.7l13.6 -3.7l-1.8 3.7l1.8 3.7zM472.2 351.7l-13.6 -3.7l1.8 3.7l-1.8 3.7z" fill="#1c1a1b"/>
<text class="i" transform="translate(339.2 452.5) rotate(-90)" text-anchor="middle" font-size="24.8">D</text>
<text class="i" transform="translate(392.5 521.6) rotate(-90)" text-anchor="middle" font-size="24.8">p</text>
<text transform="translate(450.2 464.8) rotate(-90)" font-size="24.8"><tspan class="i">E</tspan><tspan font-size="19.5" dy="8.3" dx="-0.7">в</tspan></text>
<text transform="translate(500.4 479.7) rotate(-90)" font-size="24.8"><tspan class="i">E</tspan><tspan font-size="19.5" dy="8.2" dx="-0.4">н</tspan><tspan dy="-8.2">, </tspan><tspan dx="-2.9">φ</tspan><tspan class="i" font-size="24" dy="10.4" dx="-0.5">N</tspan></text>
<text transform="translate(456.4 367.2) rotate(180)" font-size="23.5"><tspan class="i">h</tspan><tspan font-size="18.5" dy="8.1">в</tspan></text>
<rect x="421.9" y="1593.4" width="37.2" height="256.8" fill="#fff"/>
<text transform="translate(446.4 1842.3) rotate(-90)" font-size="27.0"><tspan class="i">E</tspan><tspan font-size="21.0" dy="8.6">в</tspan><tspan dy="-8.6">/</tspan><tspan class="i">E</tspan><tspan font-size="21.0" dy="8.6">н</tspan><tspan dy="-8.6"> = 2; φ</tspan><tspan class="i" font-size="21.0" dy="8.6">N</tspan><tspan dy="-8.6"> = 32°</tspan></text>
<path d="M458.2 1777.6L580.12 1810.70" stroke="#a0a0a0" stroke-width="1.8" fill="none"/>
<circle cx="585.12" cy="1812.00" r="5.1" fill="none" stroke="#9c9c9c" stroke-width="2.1"/>
<circle cx="679.14" cy="1781.10" r="5.1" fill="none" stroke="#9c9c9c" stroke-width="2.1"/>
<circle cx="732.62" cy="1781.10" r="5.1" fill="none" stroke="#9c9c9c" stroke-width="2.1"/>
<circle cx="775.73" cy="1781.10" r="5.1" fill="none" stroke="#9c9c9c" stroke-width="2.1"/>
<circle cx="840.23" cy="1781.10" r="5.1" fill="none" stroke="#9c9c9c" stroke-width="2.1"/>
<circle cx="903.24" cy="1783.60" r="5.1" fill="none" stroke="#9c9c9c" stroke-width="2.1"/>
<circle cx="966.95" cy="1781.10" r="5.1" fill="none" stroke="#9c9c9c" stroke-width="2.1"/>
<circle cx="1002.42" cy="1786.60" r="5.1" fill="none" stroke="#9c9c9c" stroke-width="2.1"/>
<text transform="translate(666.80 1779.50) rotate(-90)" text-anchor="middle" font-size="20.5" stroke="#fff" stroke-width="5" stroke-opacity="0.5" stroke-linejoin="round" paint-order="stroke">3</text>
<text transform="translate(721.00 1779.50) rotate(-90)" text-anchor="middle" font-size="20.5" stroke="#fff" stroke-width="5" stroke-opacity="0.5" stroke-linejoin="round" paint-order="stroke">4</text>
<text transform="translate(764.00 1780.00) rotate(-90)" text-anchor="middle" font-size="20.5" stroke="#fff" stroke-width="5" stroke-opacity="0.5" stroke-linejoin="round" paint-order="stroke">5</text>
<text transform="translate(827.00 1780.00) rotate(-90)" text-anchor="middle" font-size="20.5" stroke="#fff" stroke-width="5" stroke-opacity="0.5" stroke-linejoin="round" paint-order="stroke">7</text>
<text transform="translate(887.80 1779.30) rotate(-90)" text-anchor="middle" font-size="20.5" stroke="#fff" stroke-width="5" stroke-opacity="0.5" stroke-linejoin="round" paint-order="stroke">10</text>
<text transform="translate(953.50 1779.30) rotate(-90)" text-anchor="middle" font-size="20.5" stroke="#fff" stroke-width="5" stroke-opacity="0.5" stroke-linejoin="round" paint-order="stroke">15</text>
<text transform="translate(990.30 1780.70) rotate(-90)" text-anchor="middle" font-size="20.5" stroke="#fff" stroke-width="5" stroke-opacity="0.5" stroke-linejoin="round" paint-order="stroke">20</text>
<text transform="translate(1033.30 1780.70) rotate(-90)" text-anchor="middle" font-size="20.5" stroke="#fff" stroke-width="5" stroke-opacity="0.5" stroke-linejoin="round" paint-order="stroke">25</text>
<text transform="translate(1053.00 1780.70) rotate(-90)" text-anchor="middle" font-size="20.5" stroke="#fff" stroke-width="5" stroke-opacity="0.5" stroke-linejoin="round" paint-order="stroke">30</text>
<text transform="translate(1076.00 1780.70) rotate(-90)" text-anchor="middle" font-size="20.5" stroke="#fff" stroke-width="5" stroke-opacity="0.5" stroke-linejoin="round" paint-order="stroke">40</text>
<text transform="translate(1095.70 1780.70) rotate(-90)" text-anchor="middle" font-size="20.5" stroke="#fff" stroke-width="5" stroke-opacity="0.5" stroke-linejoin="round" paint-order="stroke">50</text>
<text transform="translate(736.9 2069.1) rotate(-90)" font-size="22">τ<tspan font-size="18.5" dy="7" dx="1.1">н</tspan></text>
<path d="M721.9 2068.8V2059.2" stroke="#231f20" stroke-width="1.7" fill="none"/>
<text transform="translate(1205.1 1173.4) rotate(-90)" font-size="22.2"><tspan class="i">h</tspan><tspan font-size="17" dy="6">в</tspan><tspan dy="-6">/</tspan><tspan class="i">D</tspan></text>
<text transform="translate(1288.0 2023.0) rotate(-90)" font-size="25"><tspan letter-spacing="5.6">Примечани</tspan><tspan word-spacing="0.45">е — Цифры, приведенные на кривых, — отношение </tspan><tspan class="i">E</tspan><tspan font-size="18.5" dy="8.5">в</tspan><tspan dy="-8.5">/</tspan><tspan class="i">E</tspan><tspan font-size="18.5" dy="8.5">н</tspan><tspan dy="-8.5">.</tspan></text>
<text transform="translate(1334.3 1164.5) rotate(-90)" text-anchor="middle" font-size="25">Рисунок Е.42 — Номограмма для определения единичного активного напряжения сдвига τ<tspan font-size="18.5" dy="8">н</tspan><tspan dy="-8"> от временной нагрузки в нижнем слое двухслойной системы</tspan></text>
<text transform="translate(1363.7 1164.6) rotate(-90)" text-anchor="middle" font-size="25">при φ<tspan class="i" font-size="19.5" dy="8">N</tspan><tspan dy="-8"> = 32° в диапазоне </tspan><tspan class="i">h</tspan><tspan font-size="18.5" dy="8">в</tspan><tspan dy="-8">/</tspan><tspan class="i">D</tspan> = 2,0 – 6,0</text>
<path d="M1314.9 1009.6V998.4" stroke="#231f20" stroke-width="1.9" fill="none"/>
<text x="1221.8" y="176.9" font-size="27.7" font-weight="bold">ГОСТ Р 71404—2024</text>
<path d="M1467.20 2135.8H1465.00V2121.7L1461.35 2123.9L1460.65 2122.2L1465.40 2118.1H1467.20ZM1479.25 2135.8H1477.05V2121.7L1473.40 2123.9L1472.70 2122.2L1477.45 2118.1H1479.25ZM1491.30 2135.8H1489.10V2121.7L1485.45 2123.9L1484.75 2122.2L1489.50 2118.1H1491.30Z" fill="#231f20"/>
</svg></body></html>
